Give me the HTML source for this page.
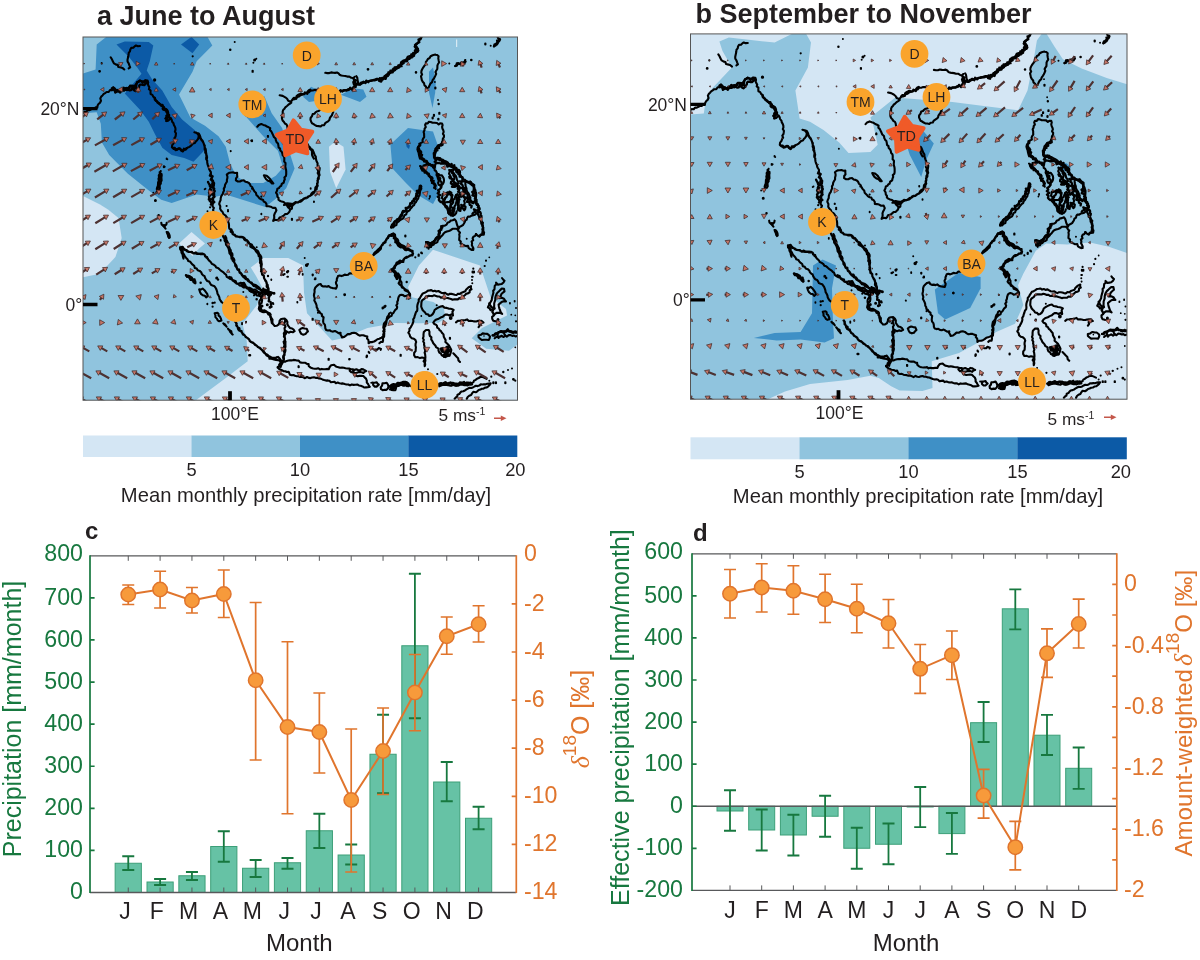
<!DOCTYPE html>
<html><head><meta charset="utf-8"><title>Figure</title>
<style>html,body{margin:0;padding:0;background:#fff}svg{display:block;filter:opacity(1)}text{font-family:"Liberation Sans",sans-serif}</style></head><body>
<svg width="1200" height="960" viewBox="0 0 1200 960">
<rect width="1200" height="960" fill="#fff"/>
<text x="97" y="25" font-size="27" font-weight="bold" fill="#231f20">a June to August</text>
<text x="695.5" y="23.3" font-size="27" font-weight="bold" fill="#231f20">b September to November</text>
<defs><g id="coast">
<path d="M112.0 90.0L111.8 88.3L113.3 87.6L113.3 89.4L114.4 90.5L117.1 90.2L117.1 89.9L118.9 91.5L120.1 90.8L121.2 89.4L122.6 89.1L123.6 87.7L125.5 89.5L126.6 88.0L128.1 89.2L129.5 87.8L130.1 85.7L131.8 85.8L133.6 85.9L134.3 88.3L135.9 87.9L135.0 85.9L135.7 84.7L136.6 83.5L137.2 82.2L138.8 81.8L139.8 80.6L141.6 81.4L143.5 81.4L144.1 82.0L145.1 80.5L147.5 80.7L148.1 82.7M114.7 90.7L115.3 92.6L117.9 90.8L119.1 91.7L120.2 92.6L121.1 91.0L122.4 90.5L124.0 90.7L125.1 89.6L126.7 90.1L128.0 89.5L129.7 90.4L131.1 90.1L132.3 87.6L133.3 89.5L134.5 90.5L135.7 91.1L137.5 89.5L138.1 88.3L139.0 87.3L139.2 85.7L140.0 84.6L142.0 84.6L142.8 84.9L144.2 85.0L145.4 84.0L146.6 82.7M154.7 98.0L154.8 99.5L155.7 100.6L157.0 101.2L157.5 102.5L159.0 103.1L159.6 104.3L160.8 104.8L162.5 104.8L163.0 106.3L164.0 107.1L163.7 109.5L165.7 109.1L166.9 109.7L167.7 111.1L168.1 112.5L168.1 113.9L169.1 115.1L169.0 117.1L166.1 117.8L166.9 119.6L166.6 121.0M162.7 108.7L163.5 109.7L165.0 110.1L166.2 110.8L167.3 111.5L167.8 112.9L167.7 114.7L166.3 115.9L166.7 117.3L165.4 118.5M173.3 148.0L174.8 148.0L175.6 150.1L177.3 149.6L178.9 148.3L180.2 148.8L181.3 150.2L183.1 151.0L183.9 148.8L185.6 149.6L186.6 148.2M210.7 174.0L209.9 175.6L212.6 176.4L211.7 178.0L210.8 179.6L212.9 180.5L213.2 181.9L214.1 183.1L213.9 184.5L213.8 185.9L212.7 187.4L214.3 188.6L214.0 190.0L214.7 191.2L213.7 192.7L212.8 193.9L213.3 195.3L214.5 196.8L212.8 197.9L212.0 199.2L212.9 200.6L214.3 202.1L212.0 203.2L211.7 204.6M208.7 183.3L209.5 184.5L210.5 185.7L210.8 187.1L210.2 188.7L209.6 190.3L210.0 191.3L209.0 192.5L210.9 194.1L210.3 195.4L208.9 196.5L209.3 198.1L210.2 199.3L209.6 200.7L210.8 201.9L211.8 203.2L210.9 204.6M339.3 92.0L340.5 90.2L342.5 91.5L343.9 90.2L345.3 90.4L346.7 90.5L347.9 89.3L349.3 89.5L350.2 87.7L352.4 89.9L353.5 87.5L355.7 87.0L355.1 83.7L357.6 83.6L358.4 84.6L360.2 84.2L360.8 82.9L362.2 82.4L363.5 81.7L365.6 83.0L366.3 80.6L368.3 82.2L369.3 80.8L370.7 80.8L372.1 80.6L373.4 80.2L374.7 80.3L376.0 80.0L377.3 79.0L378.8 80.1L379.7 78.2L381.6 78.9L382.9 78.6L384.3 78.1L384.6 76.1L386.5 76.3L387.9 75.9L387.9 73.9L389.0 72.6L390.7 72.3L392.7 72.4L392.7 69.5L393.8 68.3L396.0 68.6L397.5 68.1L398.8 67.4L399.2 65.5L401.6 66.1M292.7 99.3L294.0 97.9L296.3 98.7L296.7 96.1L297.9 95.0L299.4 94.4L300.9 93.6L302.7 94.4L304.1 94.2L304.9 92.5L307.3 93.8L307.8 91.6L308.9 90.4L310.2 89.8M353.3 87.3L354.8 86.4L356.2 85.4L355.2 82.8L354.2 82.4L355.9 80.4L353.9 79.6M379.3 80.9L381.2 81.6L381.7 79.8L383.1 79.5L383.9 78.2L385.7 78.8L386.1 76.6L386.7 75.0L389.0 74.7L388.4 72.3L390.6 73.0L390.4 70.6L392.5 71.1L393.2 69.8L395.1 70.1L394.7 67.3L396.6 67.8L397.4 66.6L399.4 67.0L400.6 65.9L400.9 64.3L401.1 62.4L402.1 61.5L403.7 60.7L405.2 60.5L406.3 59.3L407.6 58.5L409.5 58.9L410.3 57.6L410.6 55.9L413.0 56.4L412.9 53.7L414.8 53.7L415.4 51.8L417.6 51.8L418.3 50.5L417.4 48.4L416.7 47.0L415.2 45.8L415.0 45.1L416.0 44.1L417.3 43.3L419.3 42.3L418.5 39.5L420.5 39.2L421.1 37.9L421.5 36.6M396.0 68.7L397.2 67.9L398.8 67.7L398.4 65.3L400.8 65.8L400.7 63.8L402.6 63.8L403.7 63.1L403.4 60.6L405.8 61.4L407.2 60.9L407.1 58.3L407.8 56.8L409.2 56.2L411.8 57.5L411.3 54.3L414.1 55.7L413.3 52.9L415.6 52.7L414.9 50.5L415.9 49.4M455.3 66.0L456.8 65.6L456.8 63.4L458.4 63.2L460.4 64.3L461.5 63.3L463.0 63.4L464.5 63.3L465.2 60.1M494.0 46.3L494.5 44.5L496.9 44.5L497.8 43.1L497.1 40.7L499.1 40.5L499.4 38.8M420.0 186.0L419.8 187.4L420.2 189.0L420.0 190.5L416.8 190.9L418.3 192.8L416.3 193.6L417.5 195.9L415.8 196.7L415.9 198.6L414.3 199.4L414.2 201.2L412.1 201.3L412.5 203.3L410.3 203.2L410.0 204.7L410.1 206.4L408.7 206.9L407.5 207.7L405.7 207.9L406.2 210.0L405.7 211.2L403.1 210.8L402.5 211.9L402.0 213.2L402.2 215.1L401.6 216.3L400.5 217.1L400.0 218.5L399.1 219.5L397.1 219.5L396.4 220.7L395.1 221.3L394.6 222.7L394.4 224.4L392.2 224.4L391.6 225.8L391.2 227.3M436.0 163.3L437.4 163.0L438.8 163.0L440.5 163.4L440.9 163.6L442.4 163.7L444.1 163.3L445.5 163.6L446.8 164.4L447.4 166.6L449.5 165.7L450.8 166.4L452.1 167.1L453.7 167.3L453.2 170.1L456.1 168.5L456.1 170.8L456.6 172.4L458.7 172.3L458.4 174.1L459.7 175.2L460.7 176.3L461.6 177.0L462.8 177.9L462.3 180.4L463.4 181.3M454.7 183.3L455.0 185.1L457.6 183.9L457.5 186.2L459.2 186.1L459.7 187.7L461.3 188.1L462.9 188.2L463.4 190.6L466.0 188.7L465.3 191.7L465.7 193.1L467.3 194.0L467.8 195.5L467.5 197.4L470.3 197.6L470.1 199.5L470.6 201.0L472.3 201.8M449.3 176.7L449.9 178.2L451.7 178.6L452.5 179.9L453.4 181.2L454.3 182.4L455.8 183.1L455.7 184.8L456.6 186.1L458.1 187.0L457.7 188.8L459.3 189.7L458.1 191.8L459.8 192.6L459.6 194.2L460.7 195.4L461.4 196.6M388.0 238.0L388.4 236.4L389.2 235.2L391.9 235.9L392.1 234.1L394.0 235.4L394.3 236.7L393.8 238.2L395.8 239.1L396.3 240.4L395.4 242.3L397.1 242.6L397.5 243.9L397.9 245.3L399.3 246.5L400.7 247.4L403.4 246.2L404.2 247.7L404.9 249.6L406.2 250.2L408.5 249.0L409.8 249.7L411.0 250.7L412.5 250.9M400.0 260.7L399.0 262.3L396.7 262.7L396.0 264.6L394.8 266.1L394.7 268.1L392.9 268.9L392.0 270.7L393.5 271.6L394.8 272.6L395.3 273.8L394.9 275.4L395.6 276.6L397.8 277.0L396.8 278.9M248.7 289.3L250.2 289.6L251.3 290.7L253.0 290.6L254.2 291.7L255.5 292.1L256.8 292.7L258.5 292.1L259.6 293.2L260.7 293.9L261.7 292.0L263.1 292.1L264.8 293.3L266.2 292.3L267.5 292.8L268.9 292.9L269.8 295.0L270.8 292.2L272.8 293.0M263.3 288.7L263.6 290.4L266.0 290.0L266.5 291.5L266.7 293.3L267.3 294.1L268.2 295.3L269.5 296.4L268.6 298.0L269.1 299.3L268.8 301.0L270.5 301.7L270.9 303.2L270.9 304.9M186.0 275.3L187.0 276.7L188.8 276.0L190.1 276.6L191.2 278.1L191.9 280.0L194.6 279.3L193.6 282.1L195.0 283.2M440.7 348.7L442.0 349.0L442.8 350.4L444.4 350.2L446.0 350.2L446.9 351.6L447.9 350.1L449.4 350.1L449.0 351.3L447.5 352.4L447.6 353.8L449.4 355.7L446.6 355.5L445.4 356.3L444.0 356.8M492.7 335.3L494.3 335.6L494.9 333.8L496.1 333.3L497.9 333.7L498.6 332.2L500.0 332.0L501.3 331.7L502.9 332.3L504.1 331.7L505.4 331.7L506.6 330.5L507.8 329.3L509.2 331.5L510.6 331.5L511.8 332.5L513.1 332.8L515.0 331.3L516.2 331.9L517.7 331.9L518.4 334.4M438.7 384.7L439.8 383.3L441.2 383.1L442.8 384.9L444.0 384.1L445.2 382.5L446.7 384.1L448.0 384.3L449.3 383.7L450.8 382.5L452.0 384.5L453.3 383.8L454.6 384.4L456.1 385.5L457.4 384.8L458.8 384.8L459.9 382.5L461.3 383.0L462.7 383.4L464.0 381.9L465.3 384.8L466.7 382.7L468.0 382.6L469.3 382.8L470.7 382.6L472.0 384.4M489.3 303.3L489.9 304.7L490.6 306.0L491.5 307.2L493.2 308.1L493.2 309.7L492.3 311.8L493.2 313.1L493.7 314.5M390.7 387.3L392.0 386.2L393.4 385.6L394.8 384.7L396.7 385.7L397.9 385.0L399.3 385.0L400.7 384.8L402.0 384.8L403.3 383.9L404.5 385.4L406.1 383.8L407.1 386.1L408.6 385.2M419.4 143.8L420.2 145.4L419.1 146.4L418.0 147.5L419.0 148.6L419.2 150.1L420.5 151.0L421.2 152.2L420.3 154.1L422.1 154.8L421.4 156.5L421.7 157.8L423.1 158.7L424.3 159.5L424.0 161.4L426.4 161.8L426.7 163.9L427.0 165.1L425.1 165.2L423.5 165.6L423.3 168.0L420.9 168.0L422.4 170.5L422.4 170.7L424.1 169.9L424.6 172.5L426.1 172.2L427.0 173.7L428.8 173.7L429.1 175.3L430.0 176.5L431.8 177.2L432.5 178.4L431.2 180.4L433.7 180.9L432.0 182.9L434.4 183.4L435.2 184.6L435.7 185.8L434.2 187.8M427.5 163.1L428.1 165.0L430.1 164.1L431.0 165.4L432.8 165.0L433.2 167.3L434.8 167.4L435.1 165.0L435.8 163.6L437.0 162.8L434.7 161.8L436.6 159.7L434.6 158.5L434.0 156.9L434.6 154.9L434.3 153.6L435.5 152.6L434.8 150.9L437.4 150.4L436.9 148.4L439.1 148.2L438.6 145.6L441.1 145.6L442.6 144.7L442.2 142.3M436.2 158.8L437.9 157.8L438.9 159.2L439.9 160.4L441.8 160.4L442.4 162.2L444.5 162.2L445.6 163.3L447.4 164.4L448.8 164.0L449.8 165.1L451.6 163.9L452.1 166.5L454.3 165.2L454.4 168.0L455.3 169.1L456.7 170.0L458.7 170.1L459.8 171.1L460.0 172.4L459.3 174.0L460.4 175.0L459.6 176.7L462.4 177.1M451.2 170.0L452.1 171.2L452.0 173.1L453.5 173.9L453.4 175.4L454.6 177.2L454.2 178.9L453.4 180.6L451.1 181.8L450.9 183.5L453.2 184.6L452.0 186.8L455.0 186.9M465.0 181.2L466.9 181.5L468.8 182.7L470.3 181.7L470.5 184.0L472.2 184.1L474.2 185.1L473.8 187.0L473.9 188.7L474.1 190.6L472.2 191.9L473.4 194.0L472.4 195.4L474.3 196.0L475.5 196.9L474.8 198.8L476.5 199.7L475.6 201.3L475.3 202.7L476.2 203.8L477.0 205.0L478.7 205.8L477.8 207.5L479.4 208.3L478.3 210.2M460.0 181.2L461.6 182.0L461.0 183.9L462.3 184.8L462.8 186.1L462.9 187.8L465.0 188.2L465.8 189.5L463.3 191.3L464.7 193.5L462.8 194.8L463.7 196.9L465.5 197.5L467.1 198.2L468.1 199.3L467.0 201.9L469.7 201.9L469.4 203.7L469.9 205.0L471.7 205.7L471.3 207.5M438.8 177.5L440.3 178.3L439.9 180.0L440.6 181.3L441.6 182.3L441.7 184.0L440.8 185.1L441.0 186.5L440.8 187.8L440.1 189.0L438.1 190.2L439.1 191.9L437.7 193.3L440.2 195.1L437.8 196.8L439.4 198.1L438.8 199.9L439.8 201.3L441.1 202.2L442.8 201.3L443.5 203.2L443.7 200.7L444.8 199.6L445.1 198.0L446.4 197.0L447.1 195.4L446.9 193.6L449.1 194.4L449.6 191.7L451.3 192.7M451.2 193.8L452.4 195.2L451.8 197.2L451.7 199.0L451.6 200.2L453.2 202.1L452.3 203.6L451.0 204.9L450.3 207.0L453.4 208.0L452.2 210.1L452.4 211.8L452.4 213.6L454.2 214.9M456.2 195.0L455.8 196.6L457.3 197.5L456.5 199.2L459.5 199.5L456.7 201.4L458.1 203.2L457.9 204.7L458.7 206.4L458.7 207.2L457.8 209.0L458.4 210.2L460.4 210.9M461.2 205.0L462.8 205.4L464.3 205.8L465.5 206.7L465.1 209.1L464.2 210.2L462.7 208.0L461.2 207.4L461.8 207.0L461.2 205.0M443.8 202.5L444.7 203.7L445.0 205.5L445.6 207.0L446.9 208.0L447.6 208.9L449.3 209.7L448.7 211.4L448.5 212.9L449.2 214.1L452.0 213.2L452.9 215.6M441.2 226.2L441.3 228.0L441.4 229.8L438.6 230.9L439.1 232.8L438.5 234.4L439.8 236.5L437.1 237.0L436.0 238.0L435.2 239.3L434.8 240.4L433.7 241.2L432.8 242.2L432.3 243.6L431.7 244.8L429.9 244.9L429.1 246.0L428.0 246.7L427.2 247.4L426.9 245.0M472.5 213.8L473.4 212.6L475.3 212.0L474.0 209.4L477.1 210.7L478.4 209.6L479.3 209.7L478.1 211.6L480.3 212.2L480.8 213.4L480.5 215.0L481.5 216.0L481.1 217.5L480.3 219.1L481.3 220.2L481.6 221.7L482.9 222.9L482.2 224.7L482.5 226.2L483.2 227.6L482.4 229.2L482.8 230.8L484.0 232.5L483.7 234.5L481.3 234.7L479.9 235.6" fill="none" stroke="#000" stroke-width="2.3" stroke-linejoin="round" stroke-linecap="round"/>
<path d="M81.3 113.7L82.8 112.8L84.3 111.8L86.2 111.9L87.5 110.3L89.3 110.3L90.9 109.5L92.3 108.5L94.1 108.7L95.5 107.4L97.3 107.6L97.6 105.6L98.5 104.0L100.0 102.7L101.0 100.8L100.3 98.5L101.2 96.6L102.5 95.5L103.5 94.1L105.1 93.1L106.6 92.0L108.7 92.0L110.0 90.0L112.1 90.1L113.3 87.3L114.7 88.4L115.6 89.7L116.1 91.3L118.1 91.5L120.0 90.5L122.1 89.8L124.0 88.7L126.0 88.1L128.0 88.0L129.7 86.4L131.9 85.8L134.2 86.4L136.0 87.7L136.3 85.7L136.6 83.8L137.4 82.0L140.0 80.6L141.5 81.4L142.6 82.8L144.2 81.9L145.3 80.6L146.6 81.8L148.0 82.7L147.9 84.4L148.5 85.9L149.4 87.3L148.9 89.2L150.6 90.5L150.5 92.3L150.6 94.0L152.4 94.9L153.3 96.7L154.8 97.9L155.5 99.5L156.3 100.9L157.6 102.1L158.5 103.4L160.2 104.2L161.1 105.8L162.6 106.7L163.9 107.9L165.4 108.8L166.6 110.1L166.4 112.0L167.6 113.5L167.9 115.3L168.1 117.4L166.6 119.0L166.3 120.9L168.3 120.6L169.5 119.4L170.6 117.9L171.7 119.7L172.2 121.7L173.5 123.2L173.9 125.0L174.8 126.5L175.4 128.2L175.5 129.9L174.9 131.7L176.0 133.3L175.8 135.0L175.5 136.7L174.4 138.2L175.2 140.2L174.1 141.7L173.6 143.3L172.2 145.1L171.9 147.3L173.7 148.9L176.0 149.3L178.0 148.9L180.0 148.6L180.9 150.4L182.5 151.5L183.7 150.0L185.0 149.1L186.6 148.6L187.8 147.4L189.3 146.9L190.7 146.0L191.9 144.7L193.1 143.4L194.9 143.0L195.8 141.5L197.1 140.2L198.1 138.8L198.6 137.1L198.7 135.3L196.7 132.9L194.4 132.3M196.7 132.9L198.8 133.6L199.9 135.5L200.5 137.3L201.2 139.2L202.6 140.7L203.3 142.3L203.8 144.0L204.8 145.5L204.6 147.3L205.6 148.8L205.9 150.5L206.0 152.1L206.3 153.7L206.3 155.4L207.1 156.9L206.9 158.6M140.0 46.0L137.9 46.2L136.0 45.5L134.6 46.4L133.3 47.8L131.3 47.9L130.3 49.5L130.0 51.4L128.8 52.7L128.6 54.5L128.3 56.3L127.9 58.0L127.5 59.9L127.6 61.7L128.7 63.3L129.4 65.3L130.2 67.3L128.7 68.3M110.7 57.3L111.9 59.2L112.8 61.3L114.0 63.4L116.1 64.6L117.8 64.9L118.3 67.0L120.0 67.3L122.4 67.9L124.3 69.5M196.7 132.9L198.8 133.9L200.0 136.0L200.2 138.1L201.3 139.8L202.6 141.4L203.7 143.2L204.2 145.3L204.8 147.3L204.6 149.1L205.3 150.7L205.2 152.4L206.1 154.0L206.8 155.6L206.2 157.4L206.2 159.2L207.2 160.7L207.2 162.4L207.5 164.1L208.0 165.7L208.8 167.3L209.1 169.0L209.9 170.6L210.9 172.1L210.8 173.9L211.4 175.6L211.8 177.2L211.6 179.1L212.1 180.7L212.6 182.3L212.1 184.1L212.3 185.8L213.2 187.4L213.8 189.1L214.2 190.8L214.1 192.7L214.3 194.4L214.1 196.0L213.3 197.6L213.2 199.3L212.6 201.1L213.0 202.9L212.7 204.7L212.5 206.4L213.9 207.9L213.1 209.7L213.4 211.4L214.4 213.6L215.9 215.4M222.7 235.3L223.4 237.1L224.5 238.7L224.6 240.7L225.8 242.3L226.0 244.4L227.2 246.1L228.2 247.7L228.8 249.5L229.2 251.4L229.5 253.3L230.8 254.9L231.4 256.7L231.5 258.6M261.3 258.7L261.3 256.9L260.5 255.4L259.2 254.1L258.6 252.3L257.7 250.8L256.0 250.0L254.5 249.3L253.4 248.2L251.9 247.5L250.3 246.5L250.4 244.2L248.7 243.3L247.6 242.0L247.0 240.2L245.3 239.4L244.3 237.9L243.0 237.1L241.3 236.8L239.5 236.8L237.7 236.6L236.0 236.1L234.8 234.8L233.1 234.1L232.0 232.7L230.6 231.7L230.8 229.6L229.3 228.7L229.0 226.9L229.0 225.1L228.8 223.3L228.1 221.6L228.4 219.6L227.3 218.0L226.4 216.6L225.3 215.3L223.4 214.1L222.6 212.0L221.1 210.6L220.1 208.8L220.3 206.2L219.2 204.0L219.7 202.0L220.6 200.1L220.7 198.0L221.4 195.9L222.7 194.0L223.2 192.2L224.0 190.6L223.8 188.6L224.8 186.9L225.0 185.0L225.9 183.3L226.9 181.7L226.9 179.8L227.4 178.0L227.4 176.3L226.8 174.6L227.9 173.6L229.4 172.7L231.3 172.5L233.3 172.4L235.2 173.0L237.1 172.9L237.1 174.8L237.3 176.7L236.0 178.3L235.9 180.4L237.9 181.5L240.0 181.5L241.9 180.5L244.0 180.4L245.4 181.8L247.3 182.1L248.9 183.0L250.0 184.3L250.7 186.0L252.1 187.0L252.8 188.4L253.5 189.9L254.5 191.5L255.9 192.7L256.4 195.0L258.1 196.6L259.5 198.3L261.3 199.4L263.0 199.7L263.7 201.6L265.2 202.2L266.4 203.9L266.5 206.1L268.7 206.2L270.7 206.7L272.8 207.9L275.3 207.7L276.4 210.2L275.6 212.0L274.7 213.6L274.1 215.4L274.3 217.3L273.8 219.1L273.2 220.9L275.3 219.8L277.6 220.2L278.8 219.0L279.6 217.4L281.3 216.9L282.8 216.2L284.0 215.2L285.2 214.1L287.1 214.0L288.3 212.9L289.4 211.8L290.2 209.7L291.9 208.6L292.0 206.4L293.4 204.7L294.9 203.4L296.6 202.4L298.7 202.0L300.7 201.6L302.3 200.4L303.5 198.7L305.3 197.9L307.4 197.7L308.9 196.3L310.7 195.4L311.5 193.5L312.8 192.2L314.7 191.4L315.2 189.5L315.4 187.5L316.8 186.1L317.2 184.3L317.8 182.5L317.4 180.6L318.8 178.8L318.8 176.6L319.6 175.0L319.1 173.3L319.1 171.6L319.5 170.0L319.7 168.1L318.2 166.8L317.5 165.2L317.6 163.3L316.8 161.8L316.2 160.1L315.9 158.5L315.8 156.7L314.7 155.1L314.0 153.2L313.3 151.4L312.5 149.7L310.9 148.9L310.0 147.3L308.7 146.3L308.0 144.8L307.2 143.4L305.9 142.3L304.5 141.2L304.1 139.3M276.0 140.7L276.7 142.3L278.0 143.6L278.4 145.4L278.6 147.4L280.1 148.6L280.3 150.5L281.7 151.8L282.4 153.5L282.7 155.3L284.0 156.6L284.3 158.3L284.3 159.9L284.2 161.6L285.5 163.0L285.5 164.7L285.3 166.3L285.5 167.9L286.0 169.5L286.2 171.1L286.2 172.7L286.2 174.4L285.9 176.0L284.4 177.4L284.8 179.2L284.1 180.7L283.7 182.7L281.7 184.0L281.2 185.9L279.8 186.7L278.9 188.1L277.4 188.8L277.0 190.8L276.0 192.7L277.2 194.5L277.4 196.7L278.5 197.8L278.5 199.7L279.8 200.8L281.7 201.6L283.7 202.1L285.3 203.5L287.4 203.3L289.4 203.6L291.4 203.9M285.3 203.3L286.4 204.6L287.2 206.0L288.1 207.3L289.5 208.4L290.0 210.0M284.0 204.9L285.8 204.5L287.3 205.3L288.9 205.4L290.4 206.3L292.0 206.6M264.0 175.3L266.7 175.8L268.2 177.1L269.6 178.4L270.6 180.0L272.0 181.7L273.3 183.4L272.0 183.5L270.9 182.3L269.7 181.2L268.0 180.7L266.1 179.2L264.8 177.2L263.9 175.4M180.0 247.3L182.7 246.8L183.8 248.5L185.5 249.9L186.9 251.2L188.7 251.9L190.6 252.0L192.3 252.7L193.9 253.2L195.8 252.4L197.3 253.3L199.0 253.5L200.6 254.2L202.3 254.3L204.0 254.1L205.2 255.6L206.2 257.5L207.9 258.7M180.0 247.3L180.1 249.2L181.3 250.8L181.5 252.6L182.6 254.5L182.9 256.6L183.5 258.6M257.3 126.7L258.8 125.0L261.3 124.0L263.3 124.9L265.3 125.4L266.9 126.6L268.7 127.3L270.2 128.2L270.0 130.3L271.3 131.4L272.2 133.2L273.1 135.1L273.9 137.0L275.6 138.5L275.9 140.7M308.0 146.9L306.3 146.6L304.7 146.1L303.3 145.1L302.0 143.9L300.2 143.1L299.2 141.2L298.0 139.6L296.0 138.9L294.7 137.9L293.6 136.6L292.6 135.1L291.5 133.8L290.0 132.9L289.5 131.1L288.0 129.7L287.5 127.9L287.2 126.0L286.5 124.4L284.9 123.5L284.0 122.0L282.6 120.5L282.0 118.7L281.9 116.7L282.5 114.9L282.7 113.1L282.7 111.3L283.3 109.8L284.5 108.7L285.3 107.3L287.0 106.0L288.6 104.5L290.5 103.4L291.2 101.3L292.8 99.4L294.6 99.3L295.9 97.8L297.3 97.1L299.0 96.6L300.1 95.5L302.0 94.6L304.0 93.9L306.6 92.6L309.0 92.3L310.6 90.6L312.7 90.5L314.6 89.9L316.4 89.8L318.3 90.3L320.0 89.2L321.5 90.2L323.3 90.2L324.8 91.2L326.6 91.3L328.4 91.0L329.8 92.5L331.7 92.2L333.4 92.5L335.2 91.7L337.3 92.2L339.3 92.0L340.8 91.3L342.3 90.6L344.0 90.6L346.0 90.0L348.0 90.1L349.7 88.6L352.0 88.8L353.7 87.7L354.6 85.9L356.5 85.1L357.4 83.4L359.9 84.8L361.8 83.4L364.0 82.6L365.9 81.8L368.1 81.5L369.8 81.0L371.5 80.2L373.3 80.0L375.1 79.4L376.8 78.8L378.6 79.2L380.6 79.2L382.1 77.7L384.1 77.5L385.1 75.9L386.4 74.8L388.0 74.0L389.1 72.7L390.6 72.1L392.1 71.5L393.7 71.0L394.9 70.0L396.0 68.7L398.0 67.9L399.6 66.7L400.7 64.9M291.3 102.7L290.0 101.4L288.2 100.8L287.1 98.8L285.3 97.3L282.7 95.9L279.7 95.3M354.7 86.0L353.7 84.1L353.2 82.1L354.4 80.5L353.5 78.5L354.4 76.9M358.7 83.6L357.9 81.7L357.5 79.6L357.3 77.8L356.4 76.2M353.6 78.3L351.3 77.8L349.4 76.6L347.3 76.6L345.3 76.0L343.3 75.8L341.3 75.5L339.7 74.8L338.6 73.4L337.0 72.5L335.1 72.9L333.3 72.8L331.2 72.4L329.3 73.1L327.3 73.1L325.3 72.8M320.0 110.0L318.5 111.1L316.7 111.5L315.5 112.4L314.4 113.7L312.7 114.1L312.0 116.2L310.6 118.0L310.5 119.9L311.2 121.7L312.0 123.3L313.6 124.1L315.1 125.1L316.7 126.0L318.7 126.1L320.7 126.5L322.0 125.3L324.2 125.1L325.2 123.2L326.7 122.2L328.1 121.3L329.4 120.1L329.8 118.2L330.8 116.7L331.9 115.3L332.5 113.6L333.3 112.0L332.4 110.4L330.8 109.9L328.9 109.4L327.1 110.8L325.3 110.7L323.6 109.7L321.8 109.4L320.0 110.0M309.3 147.3L310.1 149.2L311.8 150.5L312.0 152.6L312.0 154.9L312.8 156.8L313.9 158.7M379.3 80.9L381.2 80.9L382.2 79.1L383.6 78.2L385.3 77.9L386.3 76.7L387.4 75.5L388.1 74.1L389.5 73.3L390.8 72.2L392.3 71.3L393.3 70.0L394.7 69.1L395.6 67.4L397.6 67.4L398.6 65.9L400.5 65.1L401.5 63.5L402.6 61.9L404.2 60.6L406.0 59.9L408.0 59.4L409.6 58.2L410.2 56.2L411.9 55.2L413.4 54.5L414.7 53.7L416.0 52.6L416.6 50.5L418.0 48.7L415.9 48.3L414.6 46.7L416.0 45.0L417.5 43.4L418.5 41.8L419.5 40.1L420.4 38.3L421.5 36.6M435.3 54.7L437.2 55.0L438.6 56.2L438.3 58.3L438.7 60.7L439.1 62.5L438.0 64.0L437.4 65.6L437.4 67.3L437.3 69.0L436.3 70.5L435.5 72.0L436.2 73.8L435.5 75.4L434.7 77.1L433.8 78.7L432.6 80.2L432.1 82.1L430.5 83.5L429.5 85.4L428.7 87.3L426.1 88.8L426.0 86.6L424.4 85.2L424.1 83.3L422.7 81.7L421.8 80.0L421.4 78.0L421.0 76.2L422.1 74.4L421.3 72.7L421.5 70.7L422.3 69.0L423.3 67.3L424.5 65.7L425.8 64.1L425.9 61.9L427.0 60.6L427.9 59.0L429.5 58.1L430.6 56.2L432.6 55.2L435.3 54.5M455.3 66.0L456.9 64.7L458.8 63.7L460.9 63.5L462.7 62.4L465.7 61.7M494.0 46.3L495.6 45.5L496.0 43.7L497.2 42.6L499.2 41.4L500.1 39.4L498.3 38.7L497.6 36.9M420.0 158.7L419.4 156.7L418.9 154.7L418.6 152.7L417.9 151.0L417.4 149.2L417.9 147.3L418.8 145.9L420.1 144.8L420.9 142.9L422.8 142.1L422.5 140.2L423.1 138.6L424.2 137.1L424.1 135.4L424.1 133.7L423.6 131.9L424.5 130.3L424.6 128.7L425.8 127.1L425.1 125.0L425.9 123.3L427.7 123.5L428.9 121.7L430.7 122.0L432.6 122.8L434.6 122.8L437.0 123.0L438.7 124.5L440.1 123.4L442.1 123.5L442.6 125.1L442.1 126.9L442.5 128.7L443.3 130.3L443.7 131.9L442.9 133.8L444.0 135.3L443.9 137.2L442.8 138.8L442.7 140.7L442.1 142.2L441.5 143.8L439.9 144.6L437.9 145.5L436.6 147.3L435.3 148.9L436.0 151.2L434.8 152.7L434.9 154.7L434.4 156.7L435.2 158.7M418.7 149.3L419.3 151.3L419.9 153.2L420.0 155.3L420.9 156.9L421.2 158.8L422.8 159.9L424.6 160.8L426.7 160.8L427.4 162.3L428.6 163.6L430.0 164.7L431.8 165.8L433.4 167.3L434.4 168.5L434.7 170.3L436.1 171.2L436.9 173.0L436.5 175.0L437.4 176.6L438.5 178.3L438.9 180.0L438.6 182.0M435.3 149.3L435.2 151.4L433.7 153.2L433.9 155.3L434.2 157.1L436.1 157.8L436.8 159.2L438.1 158.1L440.0 158.0L441.1 159.2L442.7 159.7L444.1 160.6L446.1 161.5L448.0 162.7L449.1 164.5L450.6 166.1L452.5 167.2L454.6 167.4L456.3 167.7L457.0 169.6L458.7 169.9L459.0 171.8L459.8 173.5L459.9 175.4L461.3 176.4L462.1 177.8L462.8 179.3L464.9 179.8L466.6 181.5L468.6 181.8L470.7 181.9L471.7 183.2L471.8 185.1L473.3 186.0L474.2 187.7L473.7 189.7L474.6 191.3L474.3 193.3L476.2 194.7L476.0 196.7L475.8 199.1L476.5 201.4M438.7 174.0L439.6 175.4L441.7 175.2L442.7 176.6L443.7 178.3L444.0 180.1L443.8 182.0L443.0 183.7L441.6 185.2L441.4 187.4L440.4 185.6L438.7 184.7L438.1 182.9L438.7 181.1L438.2 179.3L437.6 177.5L438.6 175.8L438.7 174.0M420.0 166.0L421.7 167.0L422.8 168.5L424.1 169.9L425.7 171.0L426.9 172.4L428.0 174.0L428.6 175.8L430.1 177.1L431.2 178.7L431.4 180.6L432.2 182.6L434.0 184.0L434.7 186.0L435.6 188.9M442.7 194.0L444.4 194.1L446.0 193.4L447.5 192.3L449.3 192.5L450.4 193.9L451.0 195.4L452.0 196.7L451.7 198.7L450.7 200.5L449.3 202.0L447.6 202.1L445.8 202.3L444.0 202.1L443.6 199.7L441.9 198.0L442.4 196.0L442.6 194.0M450.7 202.0L451.9 200.6L453.7 199.7L454.8 198.1L455.4 196.5L456.0 195.1L457.4 194.1L458.8 196.6L458.7 198.6L456.7 199.8L456.8 201.7L455.9 203.3L455.6 205.0L454.4 206.5L454.6 208.4L454.1 210.0L453.7 212.3L452.0 214.0L449.4 212.6L450.4 211.0L449.6 209.0L450.7 207.3L450.5 205.6L450.7 203.8L450.5 202.0M458.7 198.0L459.8 196.8L461.4 196.3L462.8 195.5L464.1 196.3L464.5 198.0L465.2 199.4L464.1 200.8L464.8 202.8L464.4 204.5L463.2 205.9L461.6 206.8L461.1 208.7L460.1 210.1L459.5 208.3L458.0 207.4L458.8 205.5L458.5 203.6L458.9 201.8L458.0 199.8L458.8 198.0M465.3 182.0L467.1 181.9L468.7 182.5L470.2 183.5L472.0 183.5L473.3 184.8L474.1 186.5L474.6 188.3L475.3 190.0L475.7 191.6L476.2 193.1L476.1 194.8L475.5 196.4L475.8 198.0L475.8 200.1L474.1 201.5L473.2 203.3L471.5 202.5L470.8 200.6L469.6 199.0L469.9 197.1L469.4 195.3L468.6 193.5L467.3 191.9L466.6 190.0L466.4 188.2L465.7 186.5L465.4 184.7L465.3 182.0M449.3 170.0L450.7 170.8L452.4 171.1L453.3 172.7L454.5 174.4L455.9 176.0L456.6 178.1L456.9 179.9L458.1 181.5L458.8 183.3L456.0 184.7L454.4 183.2L453.3 181.4L452.6 179.3L451.2 178.4L450.8 176.7L450.0 175.3L449.0 173.6L449.8 171.8L449.2 170.0M442.7 203.3L443.8 204.5L445.1 205.5L446.7 206.0L447.8 207.6L447.5 209.6L448.0 211.3L448.3 213.1L450.3 213.7L450.5 215.4L452.8 215.8L454.7 214.8L456.1 213.3L456.6 211.3M476.7 201.3L476.6 203.1L478.0 204.3L478.0 206.1L479.2 207.4L479.6 209.2L478.4 210.8L478.5 212.6M426.0 242.0L426.8 243.3L427.8 244.5L428.1 246.2L429.4 247.3L431.0 247.0L431.8 245.3L433.4 244.8L434.4 243.3L436.0 242.9L437.4 242.1L437.8 240.4L438.8 239.1L440.0 238.0L441.1 236.5L442.5 235.2L443.6 233.6L445.0 232.3L446.8 231.5L448.8 230.9L450.7 230.2L452.5 228.8L454.7 228.8L456.6 228.8L458.0 230.0L458.8 231.5L460.0 232.6L459.2 234.4L459.5 236.2L459.3 238.0L459.2 239.9L460.8 241.4L460.5 243.4L462.2 244.5L464.0 245.3L465.9 246.1L468.0 245.9L468.7 248.2L470.6 249.4L473.3 249.9L473.4 248.3L472.6 246.7L471.8 245.1L472.1 243.3L471.6 241.5L473.2 240.1L472.6 238.3L473.4 236.7L475.2 235.9L476.0 234.0L477.5 235.5L479.4 236.6L480.5 234.7L482.6 233.9L482.3 232.2L483.3 230.5L483.3 228.7L482.9 227.0L482.9 225.2L481.3 223.8L481.2 222.0L480.9 220.1L479.3 218.7L479.1 216.7L478.1 214.8L477.2 212.7L476.1 213.7L474.9 214.8L473.3 215.3L471.5 215.6L469.9 216.7L468.0 216.6L467.1 218.0L466.7 219.7L465.2 220.6L464.7 222.2L463.8 223.7L462.9 225.1L461.3 226.0L459.6 226.9L458.6 228.6L457.9 226.7L457.0 224.8L456.5 222.7L455.9 220.9L454.7 219.3L452.7 220.2L450.6 220.6L449.4 222.1L447.5 222.8L446.6 224.6L444.8 225.7L442.6 225.8L442.4 227.7L440.8 228.6L440.0 230.0L440.0 231.9L439.8 233.7L438.6 235.3L438.4 237.1L436.8 238.0L435.9 239.2L435.0 240.8L433.6 241.7L431.9 242.2L430.7 243.3L429.2 242.7L427.7 242.0L426.0 242.1M420.0 186.0L419.8 187.7L419.2 189.3L419.1 191.0L417.3 192.2L417.2 194.0L416.0 195.5L416.0 197.7L413.9 198.7L413.2 200.6L412.3 202.0L410.8 203.1L410.1 204.7L409.2 206.3L408.3 207.7L406.7 208.7L406.1 210.5L404.6 211.5L403.0 212.4L402.0 213.8L400.7 215.0L399.9 216.6L398.9 218.3L397.3 219.3L396.1 220.7L394.3 221.7L393.3 223.3L392.7 225.5L391.3 227.3L393.3 227.4L394.6 225.9L396.4 225.1L396.8 222.8L398.4 221.7L399.7 220.4L401.4 219.4L403.0 218.5L403.9 216.9L404.5 215.2L406.2 214.4L406.7 212.5L407.9 211.3L409.6 210.4L410.4 208.8L411.6 207.5L412.6 206.2L414.1 205.2L414.7 203.3L416.1 201.9L416.9 200.2L418.2 198.6L418.6 196.7L419.5 195.2L419.8 193.5L420.0 191.8L420.4 190.1L421.4 188.7L419.8 186.1M379.3 249.7L381.0 248.5L381.2 246.2L382.2 244.5L383.9 243.2L385.5 242.4L385.8 240.5L386.5 239.0L387.8 237.9L388.8 236.1L390.9 235.6L392.0 234.0L394.0 235.4L394.1 237.2L395.6 238.7L395.3 240.7L396.6 241.9L397.2 243.7L398.6 244.7L399.7 246.1L401.7 245.9L402.6 247.5L404.4 248.9L406.6 249.5L408.7 249.7L410.4 250.7L412.1 251.9L413.1 253.5L412.5 255.4L410.5 255.5L408.6 256.6L406.5 256.8L404.7 258.0L403.4 260.7L401.7 261.3L400.0 260.8L398.4 261.7L397.4 263.4L396.2 264.9L394.7 266.0L394.3 267.8L392.7 268.7L394.0 270.5L394.6 272.7L395.5 274.1L396.3 275.6L396.0 277.5L397.3 278.7M393.3 269.3L394.2 271.3L395.9 272.6L397.5 273.9L398.3 275.7L399.2 277.5L399.9 279.4L399.6 281.4L398.6 283.3L399.7 284.7L401.2 285.7L401.9 287.4L404.0 288.2L404.8 290.4L406.8 291.2L408.9 292.4L410.1 294.6L408.2 294.9L406.6 295.8L404.7 296.3L403.1 295.1L401.3 294.7L399.7 295.3L398.7 296.8L398.2 298.4L398.0 300.3L397.2 302.0L397.5 303.7L396.3 305.3L397.2 307.0L396.8 308.7L395.3 309.8L394.4 311.3L393.5 312.8L392.1 313.9L391.6 315.8L389.9 316.6L388.6 317.8L387.4 319.0L386.6 320.6L386.4 322.5L385.9 324.3L385.4 326.0L384.1 327.6L384.6 329.8L383.2 331.3L384.3 333.0L384.2 334.8L384.1 336.7L382.9 338.3L383.1 340.2L382.7 342.0L380.8 341.9L379.4 343.2M420.0 298.0L420.8 296.4L421.8 294.9L422.8 293.4L424.6 292.8L426.3 291.8L428.0 290.6L429.7 290.4L431.3 290.1L433.0 291.2L434.7 290.7L436.4 291.5L438.4 291.0L440.0 292.0L441.5 292.9L443.3 293.1L445.2 292.9L446.7 294.0L448.2 294.7L449.9 293.8L451.5 293.9L453.1 294.2L454.7 294.7L456.5 295.0L458.2 293.7L460.0 293.9L461.6 292.7L463.4 292.0L465.3 291.3L466.0 289.7L467.3 288.5L468.6 287.3L471.0 286.2L470.8 287.7L471.5 289.3L469.7 290.2L469.6 292.4L468.0 293.4L466.2 293.7L465.1 295.0L463.8 296.0L462.7 297.4L461.1 298.3L459.3 298.1L457.8 299.4L456.0 299.4L454.3 299.3L452.6 299.7L451.0 299.0L449.3 298.6L447.7 298.0L446.0 298.0L444.4 297.5L442.7 297.3L440.9 297.6L439.4 296.5L437.6 296.5L436.0 295.9L434.2 295.3L432.4 296.1L430.7 296.0L428.3 295.9L426.0 296.7L424.6 298.6L422.6 299.9L421.6 301.4L421.4 303.0L421.3 304.6L421.2 306.6L421.9 308.3L422.6 310.0L423.8 311.3L425.1 312.5L426.0 314.0L428.0 314.4L429.3 316.0L431.2 315.4L432.7 314.1L433.9 312.1L434.6 310.0L435.9 309.0L437.3 308.2L438.7 307.4L440.6 306.5L442.7 306.1L444.4 307.6L446.7 307.9L448.6 308.6L450.6 308.8L452.2 309.2L453.6 310.0L452.4 311.8L452.8 314.0L451.0 314.6L449.4 315.5L447.4 314.6L445.4 314.5L444.0 315.6L442.8 316.8L440.6 317.6L438.7 318.7L436.5 319.4L434.7 320.7L433.3 322.6L434.4 324.1L436.0 324.7L437.0 325.9L437.2 327.7L438.8 328.6L439.6 330.2L441.0 331.2L441.9 332.7L443.5 334.4L443.8 336.8L444.7 338.4L445.6 340.1L445.4 342.0L447.1 343.6L448.8 345.2L449.7 346.8L450.6 348.4L451.3 350.0L450.9 351.9L450.4 353.7L449.4 355.4L447.2 356.0L445.3 357.2L443.7 356.3L441.9 355.4L441.0 353.7L439.3 352.7L438.5 350.7L438.5 348.7L436.0 347.2L435.5 345.7L434.4 344.5L433.3 343.3L432.4 341.3L431.2 339.4L431.4 337.3L429.8 335.9L429.4 334.0L429.5 331.9L428.8 330.0L426.0 330.0L423.8 332.1L423.5 334.3L423.5 336.7L422.9 338.3L423.8 339.8L423.2 341.5L424.2 343.0L424.0 344.7L424.5 346.2L424.4 347.9L424.9 349.4L425.3 351.0L424.6 352.7L425.1 354.2L425.3 355.8L425.4 357.4L425.2 359.1L425.4 360.7L424.9 362.5L424.6 364.4L424.7 366.3L425.2 364.6L425.0 362.9L423.6 361.4L424.7 359.6L424.2 358.0L422.0 357.5L420.0 358.1L417.7 357.1L415.3 357.3L414.1 355.2L414.2 352.7L415.6 351.1L415.7 349.2L415.9 347.3L415.5 345.5L415.6 343.7L416.2 342.0L415.5 340.1L413.9 338.7L411.8 338.2L410.1 336.5L409.6 334.5L408.3 332.7L409.5 330.8L409.4 328.7L410.6 327.6L411.3 326.1L412.1 324.8L412.9 323.0L413.4 321.2L413.2 319.3L414.3 317.7L414.7 315.8L415.4 314.0L415.9 312.2L417.2 310.7L417.4 308.7L417.2 306.8L417.4 305.1L417.9 303.3L418.7 301.6L418.7 299.5L420.0 298.0M456.0 322.3L457.8 320.9L460.0 320.7L461.8 320.4L463.6 320.3L465.4 320.1L467.2 319.4L468.8 321.0L470.7 320.7L472.4 321.0L474.2 321.4L476.0 321.5L477.8 320.9L479.5 320.8L481.4 320.8L483.5 322.5L481.3 322.9L479.3 323.5L479.7 325.5L478.6 327.1M502.0 278.0L503.1 279.5L504.5 280.8L503.5 282.5L501.8 283.9L500.0 284.3L498.0 284.7L496.1 282.6L496.3 284.4L494.8 285.7L494.6 287.3L494.5 289.2L493.2 290.7L493.4 292.7L492.9 294.5L492.4 296.2L491.9 298.0L491.8 299.9L490.8 301.6L490.0 303.3L488.9 305.3L487.9 307.3L489.6 308.4L490.6 310.1L492.6 309.2L494.7 308.7L494.1 306.9L494.2 305.1L494.2 303.3L494.7 301.6L495.3 299.9L495.3 298.0L495.7 296.1L496.4 294.3L497.4 292.7L498.8 291.5L500.1 290.1L501.8 288.6L504.0 288.8L504.5 291.4L503.0 292.6L501.4 294.1L500.6 296.1L499.5 298.1L501.7 297.8L504.0 298.8L504.9 300.1L505.9 301.4L503.9 301.2L502.0 301.8L500.2 303.2L498.6 304.6L498.9 306.5L499.3 308.3L500.0 310.0L500.7 312.1L502.1 313.9L500.4 313.1L498.7 312.7L496.5 312.9L494.7 314.2L493.7 315.7L492.1 316.8L492.2 318.8L493.2 320.7L495.4 321.3L497.6 321.4M478.7 335.3L480.9 334.8L482.7 333.4L485.0 333.8L487.3 333.9L488.9 335.1L490.0 336.6L489.6 338.4L488.7 340.0L486.3 339.8L484.0 339.8L481.8 340.0L480.0 338.6L478.6 337.3L478.5 335.4M492.7 335.3L494.5 334.9L495.8 333.7L497.4 332.8L499.1 332.1L500.7 331.0L502.7 331.3L504.5 331.3L506.3 331.6L508.0 330.9L509.8 331.1L511.6 331.4L513.4 331.8L515.0 332.7L517.0 332.5L518.7 333.3M494.7 338.3L496.2 337.0L498.0 336.4L500.0 336.7L501.7 335.8L503.6 337.0L505.3 335.8L507.2 336.4L508.8 335.0L510.6 335.1L512.2 335.9L513.9 335.5L515.4 336.5L517.1 335.9L518.7 336.5M497.3 334.0L497.6 336.1L498.6 338.0M504.0 332.7L504.4 334.3L505.5 335.5L506.8 336.6M382.7 383.3L384.7 383.2L386.7 382.7L387.7 384.3L388.5 386.1L388.0 388.2L386.5 389.9L384.7 389.7L382.7 390.2L381.0 389.1L380.7 387.3L382.1 385.6L382.5 383.3M390.0 386.0L391.5 384.7L393.4 384.1L395.3 384.5L396.6 386.1L396.0 388.0L395.5 390.1L393.3 390.2L391.3 390.0L390.6 388.0L390.1 386.0M397.3 384.7L399.1 383.2L401.4 382.8L403.1 382.7L404.9 383.3L406.7 383.4L408.1 384.1L409.4 385.0L410.6 386.1M438.0 384.7L439.8 384.9L441.2 384.2L442.7 383.4L444.3 382.8L445.9 382.3L447.7 383.6L449.3 382.7L450.9 383.4L452.7 382.7L454.3 383.3L456.0 383.5L457.7 383.7L459.3 383.2L461.0 382.5L462.7 382.6L464.3 383.5L466.0 382.8L467.6 383.5L469.3 383.4L471.5 383.3L473.4 382.1M439.3 386.3L441.1 385.6L442.9 384.8L444.8 384.9L446.7 384.9L448.3 385.2L449.8 385.6L451.4 385.8L453.1 384.5L454.7 385.5L456.3 385.7L457.9 385.7L459.5 385.0L461.0 384.4L462.7 384.8L464.3 385.2L465.9 385.1L467.4 385.5L469.1 384.6L470.7 384.8M454.7 398.7L455.8 397.5L457.2 396.6L457.5 394.7L459.2 394.1L460.1 392.8L461.4 391.5L463.3 391.2L464.9 390.5L466.4 389.4L467.9 388.6L469.5 387.8L471.3 388.0L472.9 387.5L474.4 386.5L475.9 385.8L477.7 386.1L479.3 385.6L480.7 384.4L482.4 384.5L484.0 384.2L485.7 384.4L487.3 383.7L489.0 383.5L490.7 383.4L489.7 385.0L488.3 386.3L486.8 387.4L485.0 387.6L483.5 388.6L481.8 388.8L480.3 389.6L478.7 390.0L477.3 391.3L475.7 392.3L473.3 391.8L472.0 393.4L471.1 395.1L469.2 395.8L467.7 397.0L466.8 398.8M474.0 380.7L475.6 379.9L477.0 378.7L478.7 378.0L480.3 377.0L482.1 376.8L484.0 377.5L486.6 378.8M453.3 353.3L455.0 355.0L456.6 356.7L458.1 358.2L458.5 360.5L460.0 362.0M255.3 249.3L255.9 251.3L257.2 252.7L258.6 254.1L258.6 256.0L260.4 257.4L260.8 259.3L261.3 261.0L261.5 262.6L261.8 264.3L261.5 266.0L261.4 267.7L261.1 269.4L261.9 271.0L261.8 272.7L262.1 274.7L264.0 276.0L264.0 278.0L265.0 279.7L266.3 281.3L266.5 283.4L267.7 285.0L267.9 286.9L268.6 288.7L268.6 290.9L269.9 292.7M229.3 249.3L230.3 250.8L231.1 252.3L232.3 253.6L232.5 255.4L232.2 257.2L233.8 258.6L234.4 260.2L234.1 262.0L235.1 263.7L235.2 265.8L236.5 267.4L237.2 269.0L239.2 269.6L239.3 271.6L240.6 272.7L241.8 274.2L242.8 275.9L245.2 276.2L246.1 277.9L247.0 279.6L248.2 281.2L249.8 282.2L251.4 283.3L252.6 284.6L253.7 286.0L255.7 286.4L256.7 287.9L258.7 288.8L260.5 289.7L262.0 291.3L264.2 291.5L266.0 292.6L268.0 292.1L270.0 292.7M229.3 276.9L231.4 277.6L232.2 279.7L234.1 280.6L235.8 281.2L236.2 283.4L238.1 283.9L239.7 285.6L241.9 286.1L243.5 287.4L245.8 287.3L247.3 288.6L249.0 289.0L249.6 291.0L251.3 291.4L252.6 292.4L254.0 293.0L255.4 293.9L256.9 295.4L258.9 295.7L260.6 296.7L261.9 298.5L262.1 300.6L261.6 303.0L259.9 304.6L259.3 306.6L258.8 308.7L259.9 310.8L262.1 311.9L263.8 312.1L265.6 311.9L267.3 312.6L268.3 314.4L270.0 315.3L271.0 317.0L270.9 318.9L271.4 320.6L271.8 323.0L273.5 324.6L274.7 326.0L276.7 325.8L278.5 324.7L279.4 322.7L279.6 320.8L280.7 319.3L282.6 318.7L284.7 318.6L286.4 320.0L287.4 322.0L287.3 324.2L288.5 326.1L289.9 327.9L292.1 328.5L293.6 329.6L294.6 331.2L292.8 332.3L290.6 331.8L288.7 332.7L286.1 331.2L286.1 333.6L284.6 335.3L284.8 337.0L285.0 338.6L285.1 340.2L283.6 341.7L284.0 343.3L284.5 344.9L284.1 346.5L283.3 348.1L284.5 349.7L284.0 351.3L284.4 353.0L284.2 354.6L283.2 356.1L283.1 357.7L283.5 359.3L283.3 361.5L282.2 363.4L281.2 365.1L280.7 367.1M299.3 330.0L300.8 328.7L302.6 327.9L304.6 328.5L306.7 328.7L307.9 331.4L306.6 332.6L305.4 334.1L303.3 334.7L301.3 333.9L300.2 332.1L299.4 330.0M235.3 322.0L236.7 323.4L236.2 325.5L237.6 326.9L237.9 328.7L238.9 330.4L240.7 331.3L242.1 332.5L242.9 334.5L244.7 335.3L245.6 337.1L247.4 337.9L249.0 339.0L249.6 341.0L251.4 342.0L253.0 342.6L254.1 343.8L255.2 345.1L256.8 345.8L258.0 347.0L259.4 347.9L260.7 349.0L262.1 349.9L263.1 351.6L264.3 353.0L265.9 354.1L267.5 354.7L268.5 356.1L270.0 356.6L271.9 357.7L274.1 357.8L276.2 357.9L278.1 356.8L279.1 358.0L280.2 359.3L281.3 360.7M363.3 270.0L361.6 270.4L360.1 271.7L358.0 270.7L356.6 272.3L354.9 272.9L353.2 273.5L351.4 273.4L349.6 273.2L348.1 274.7L346.5 275.0L344.7 274.6L343.1 275.5L341.5 276.1L339.6 275.5L338.0 276.0L337.5 277.5L336.8 279.0L336.8 280.7L335.9 282.2L336.1 283.8L337.0 285.5L336.7 287.1L336.0 288.7L334.3 288.3L332.6 288.1L330.4 287.5L328.6 286.0L327.0 286.8L325.1 286.3L323.3 286.5L321.6 285.7L320.7 284.0L318.5 284.6L316.7 286.1L315.2 287.8L314.5 289.9L314.6 291.8L314.3 293.6L313.9 295.3L314.3 297.0L314.8 298.6L314.3 300.5L315.2 302.0L316.0 303.7L316.6 305.5L316.7 307.3L317.6 308.6L317.8 310.4L319.2 311.4L320.2 313.1L321.9 314.1L321.9 315.9L323.6 317.4L323.3 319.3L323.1 321.3L323.5 323.1L324.8 324.6L325.2 326.4L325.3 328.3L326.1 330.0L327.8 330.5L329.7 330.2L331.3 331.3L333.1 331.6L335.0 331.0L336.7 331.9L338.5 333.1L340.6 332.8L340.4 334.4L341.4 335.8L341.9 337.4L344.3 336.9L346.1 335.5L347.8 334.0L350.0 334.1L351.9 333.0L354.0 332.7L356.2 333.3L358.0 334.7L359.7 335.6L361.5 335.3L363.3 335.2L365.3 336.0L367.3 336.6L367.0 338.5L368.3 339.9L368.6 341.6L368.6 343.3L370.2 342.1L372.3 342.1L374.1 341.5L375.8 340.5L377.4 339.2L379.3 338.7L381.4 337.7L383.3 336.5L383.2 334.7L383.7 333.0L384.6 331.3L383.9 329.4L383.3 327.4L383.6 325.4L384.0 323.5L385.4 322.0L386.5 320.4L386.8 318.5L387.4 316.7L388.6 315.4L389.2 313.5L390.7 312.5M373.3 255.3L375.0 254.0L376.7 252.7L378.1 251.7L379.3 250.4L380.6 249.3M181.3 247.3L182.2 249.0L182.7 250.8L182.7 252.7L183.9 254.3L184.8 256.3L186.2 257.9L187.5 259.2L188.3 261.1L190.3 261.7L191.3 263.3L192.7 264.7L194.2 265.8L194.8 267.9L196.7 268.6L197.7 270.3L199.7 270.9L201.2 272.2L201.9 274.1L203.1 275.3L204.6 276.2L205.1 277.9L206.0 279.3L207.1 280.9L209.1 281.6L210.1 283.3L210.9 284.8L212.5 285.4L214.1 285.9L215.1 287.2L216.0 288.5L216.6 290.0L217.2 291.8L217.5 293.8L218.5 295.4L219.3 297.1L219.6 299.0L220.6 300.7L221.6 302.2L223.1 303.1M236.0 322.0L236.2 323.9L237.0 325.7L237.8 327.4L239.5 328.3L239.5 330.4L241.6 330.9L241.9 332.7L243.2 334.1L244.7 335.3L245.9 336.8L247.3 338.1L248.8 339.2L249.9 340.7L251.0 342.1L252.6 342.8L254.1 343.5L255.3 344.7L256.7 345.6L257.8 347.0L259.5 347.4L260.7 348.6L261.9 350.1L263.5 351.2L264.7 352.6L265.7 354.3L266.9 355.7L268.7 356.7L270.7 358.7M181.3 247.3L183.3 248.3L184.7 249.9L186.6 250.1L188.2 251.4L190.0 252.0L191.9 251.8L193.4 253.5L195.4 253.3L197.1 253.9L198.9 253.9L200.7 253.5L202.8 253.6L204.7 254.6L205.0 256.4L207.1 256.9L207.5 258.6L208.9 260.4L210.7 262.0L211.9 263.9L213.9 264.8L215.3 265.8L216.2 267.5L218.0 268.0L219.3 269.1L220.5 270.4L222.0 271.3L223.5 272.3L224.6 273.7L226.0 274.6L226.8 276.8L228.6 278.0L230.0 278.9L231.7 279.2L232.7 280.6L234.1 281.4L235.3 282.5L236.7 283.4L238.8 283.6L240.7 282.8L242.7 283.6L244.7 284.6L245.9 286.1L247.2 287.5L249.4 287.8L251.3 288.7L252.9 289.8L255.1 289.5L256.7 290.6L258.3 292.4L260.6 292.8L262.0 293.7L263.4 294.5L261.9 295.9L261.3 297.6L260.6 299.3L259.5 300.9L259.2 302.7L259.4 304.7L260.5 306.3L261.0 308.1L261.3 310.0L262.9 310.5L264.6 310.4L266.0 311.2L267.9 312.5L270.0 313.4L270.7 314.8L270.1 316.7L271.3 318.0L272.5 319.6L272.4 321.5L272.6 323.4M225.3 236.0L226.3 237.9L226.4 240.1L227.5 241.9L228.3 243.6L228.2 245.5L229.2 247.1L229.9 248.7L230.8 250.2L230.7 252.0L230.9 253.7L231.4 255.3L231.8 257.1L232.6 258.7L232.6 260.6L234.0 262.0L235.0 263.7L236.3 265.3L236.8 267.3L237.2 269.3L239.0 270.6L239.5 272.6L241.0 273.6L242.0 275.4L243.2 276.8L244.6 277.8L245.7 279.1L247.8 279.1L248.8 280.5L249.7 282.0L251.5 282.4L252.5 283.9L254.0 284.6L256.1 285.3L257.8 286.6L259.4 287.9L260.3 289.4L261.9 289.9L263.4 290.6L266.0 292.0M231.3 229.3L232.0 230.8L232.9 232.2L232.5 234.0L234.4 235.0L235.9 236.4L238.0 236.6L239.7 237.3L241.7 237.2L243.4 237.8L244.3 239.6L245.7 240.5L247.5 240.8L248.6 242.1L249.6 243.7L251.6 244.4L252.6 246.1L253.9 247.5L255.0 248.7L255.4 250.4L257.3 251.1L258.0 252.6L258.2 254.4L259.4 255.9L259.8 257.6L259.9 259.4L260.2 261.0L259.9 262.7L260.9 264.3L260.8 266.0L261.2 267.6L261.8 269.2L260.9 271.1L262.1 272.7L262.6 274.4L263.9 275.8L263.9 277.7L264.7 279.3L265.5 281.1L266.7 282.6L266.8 284.6L266.6 286.6L267.8 288.2L268.1 290.0L267.5 292.7M186.0 275.3L188.1 275.8L190.0 276.8L191.8 277.4L192.5 279.2L194.0 279.9L195.3 281.2L195.5 283.0M186.8 276.7L188.5 277.1L189.6 278.2L190.4 279.9L192.4 279.9L193.4 281.3L194.6 282.4M199.3 289.3L201.1 289.5L202.6 288.5L204.5 290.2L205.9 292.1L207.2 293.9L207.8 296.1L206.1 297.4L204.7 295.7L202.7 295.3L201.0 293.9L200.0 292.0L199.2 289.4M214.7 313.3L217.4 312.7L218.5 313.8L218.6 315.7L220.0 316.7L220.9 318.6L221.4 320.6L219.3 321.3L217.7 320.3L216.8 318.6L215.4 317.1L215.4 315.1L214.7 313.3M223.3 323.3L225.3 324.7L226.6 326.7M228.0 328.7L229.3 330.1L230.1 331.8L231.4 333.2L232.7 334.6M224.0 324.1L226.3 326.2M228.7 329.7L230.3 330.7L231.4 332.3L232.0 334.1M166.7 232.0L168.1 234.6L168.4 236.3L169.5 237.7M167.3 232.7L168.0 234.8L169.0 236.9M241.3 283.3L244.0 282.7L245.4 285.3L242.7 286.8L241.7 285.1L241.2 283.4M317.3 169.3L318.3 171.1L317.7 173.1L318.7 174.8L318.7 176.7L317.8 178.4L317.8 180.2L317.8 182.0L317.0 183.6L317.7 185.7L316.8 187.4L316.7 189.2L315.1 190.3L314.6 192.0L313.3 193.5L311.6 194.8L310.0 196.0L308.1 196.6L306.6 198.1L304.6 198.5L303.0 199.8L301.0 200.3L299.4 201.4L297.8 202.6L295.5 202.0L294.0 203.2L292.5 203.9L291.7 205.7L290.1 206.2M373.3 254.7L374.6 252.6L376.6 251.2L377.8 249.8L379.2 248.5L380.5 247.2L381.4 245.8L382.8 244.8L383.3 243.0L384.8 242.1L385.6 240.7L386.7 239.5L387.3 237.9L388.9 236.3L390.7 234.7L393.3 233.3L395.0 234.6L395.2 236.7L395.9 238.2L397.4 239.1L398.2 240.6L398.4 242.3L399.6 243.4L400.8 244.6L402.7 245.4L404.6 246.4L405.9 248.1L408.0 248.5L409.3 250.4L411.3 250.8L412.6 252.1L412.6 254.0L411.4 255.0L409.8 255.4L408.6 256.6L406.8 257.7L404.7 258.2L403.3 259.8L403.4 262.0L401.1 262.0L399.3 263.3L397.8 263.9L396.4 264.7L395.3 266.0L394.0 267.2L393.1 268.8L391.3 269.3L393.4 270.2L395.3 271.3L396.2 273.2L398.4 273.6L399.3 275.4L400.5 276.9L399.9 279.0L400.5 280.7L401.5 282.4L401.5 284.2L401.8 286.0L403.2 287.5L404.6 288.7L406.1 289.9L407.8 290.8L408.8 292.5L410.0 294.0L410.0 295.7L409.4 297.2L408.8 298.7M160.7 171.1L160.1 172.9L160.0 174.8L160.1 176.7L160.1 178.4L159.4 180.0L159.3 181.7L158.8 183.3L158.8 185.0L158.6 186.7L157.3 188.2L157.7 190.0L156.2 192.7M159.7 172.0L159.8 173.8L158.8 175.4L159.0 177.2L158.5 178.9L158.8 180.7L158.1 182.3L158.0 184.0L157.9 185.7L157.2 187.3L156.8 188.9L157.2 190.7M161.6 174.0L161.7 175.6L161.4 177.2L161.5 178.9L161.6 180.5L160.8 182.0L160.8 183.7L159.7 185.1L159.7 186.8L159.9 188.5L159.0 190.0M166.9 232.7L168.0 235.3L169.1 238.0M167.7 232.0L168.9 233.6L169.6 235.3L169.8 237.3M161.3 222.7L161.6 224.4L162.8 225.6L164.1 226.6L165.2 225.5L166.4 224.4L166.7 222.7M164.0 226.7L165.5 228.6M278.0 367.3L279.1 366.1L280.1 364.9L280.8 363.4L282.3 362.6L283.2 361.2L285.1 361.7L286.7 360.9L288.4 360.5L290.0 360.2L291.6 360.4L293.4 359.9L295.0 360.1L296.7 360.5L298.7 360.6L300.1 362.4L302.0 362.8L303.7 362.7L305.4 362.8L307.0 363.9L308.6 364.1L308.7 365.9L310.1 367.3L311.6 368.1L313.2 368.5L314.9 368.7L316.7 368.6L318.4 368.3L319.9 369.5L321.7 368.9L323.3 369.3L325.1 369.3L326.9 368.9L328.7 369.2L329.7 367.0L331.2 365.2L334.0 364.7L335.2 365.8L336.6 366.8L338.4 367.2L340.1 367.8L342.0 367.5L343.8 367.8L345.6 368.2L347.4 368.5L349.2 368.6L350.9 369.2L352.7 369.2L354.4 369.9L356.3 369.2L358.0 370.0L359.8 370.6L361.5 369.1L363.3 369.4L364.8 370.3L366.3 371.1L364.6 371.7L363.4 373.0L361.7 372.3L360.0 372.2L358.3 372.3L356.7 372.8L354.9 373.0L353.1 372.2L351.3 372.3L349.7 370.7M352.7 369.6L353.4 371.2L353.8 372.9L354.2 374.7L355.8 375.6L357.5 376.2L359.4 375.9L361.3 375.7L363.3 376.0L364.6 377.4L366.0 378.6L366.8 380.6L366.8 382.6L367.9 383.8L368.7 385.3L369.6 386.8M278.0 367.3L279.0 368.8L280.3 369.6L281.9 370.2L283.5 371.2L285.3 371.2L286.9 372.0L288.7 371.8L289.9 374.7L291.6 375.2L293.4 375.0L295.0 375.8L296.6 376.2L298.3 376.3L300.0 376.9L301.7 376.7L303.3 377.3L305.0 378.2L307.0 377.0L308.7 377.9L310.5 378.1L312.2 377.5L314.0 377.2L315.6 377.9L317.4 377.8L319.0 378.5L320.7 378.6L322.4 379.4L324.2 380.1L326.0 380.6L327.8 380.4L329.4 380.8L330.9 382.3L332.7 382.0L334.5 381.7L335.9 383.2L337.7 382.6L339.4 383.2L341.1 383.6L342.9 383.4L344.7 384.0L346.4 384.5L348.3 384.5L350.0 385.4L351.7 384.5L353.6 384.9L355.3 384.7L357.3 384.5L358.9 385.4L360.7 385.8L362.5 386.4L364.1 387.5L366.0 387.4L367.9 387.3L369.8 386.8M284.7 319.3L285.4 321.1L284.2 323.1L284.8 324.9L285.5 326.7L284.5 328.2L284.8 330.0L284.8 331.8L283.8 333.3L284.1 335.0L283.9 336.7L285.1 338.3L284.6 340.0L285.5 341.6L285.4 343.3L285.4 345.0L285.5 346.6L285.0 348.3L285.5 350.0L285.2 351.7L284.6 353.3L284.6 355.0L283.7 356.6L284.0 358.3L283.9 360.0L282.6 361.3L280.9 362.2L279.9 363.9L279.5 365.9L277.9 367.3M269.3 358.7L271.7 358.7L274.0 359.4L276.0 360.0L278.0 360.1L279.8 360.9L280.7 362.6M372.7 382.7L374.7 382.7L376.7 382.2L377.4 383.5L378.8 384.6L376.6 386.6L374.8 386.6L373.3 385.3L372.8 382.6M390.0 389.3L391.8 388.1L394.1 388.2L395.2 386.8L395.7 385.1L396.6 383.7L398.0 382.7L399.8 383.0L401.6 382.4L403.3 381.8L405.3 381.7L407.0 382.3L408.6 383.5M390.7 386.7L392.6 385.9L394.7 386.3L396.7 385.9L398.4 386.0L400.0 385.1L401.6 384.4L403.4 384.8L405.1 385.2L406.8 385.8L408.6 386.1M375.3 349.6L377.3 349.6L378.6 348.1L381.0 349.0" fill="none" stroke="#000" stroke-width="2.1" stroke-linejoin="round" stroke-linecap="round"/>
<path d="M98.2 71.3a1.4 1.4 0 1 0 2.8 0a1.4 1.4 0 1 0 -2.8 0M100.8 63.3a0.9 0.9 0 1 0 1.7 0a0.9 0.9 0 1 0 -1.7 0M153.0 80.0a1.6 1.6 0 1 0 3.3 0a1.6 1.6 0 1 0 -3.3 0M191.6 56.3a1.1 1.1 0 1 0 2.2 0a1.1 1.1 0 1 0 -2.2 0M229.0 49.7a1.2 1.2 0 1 0 2.5 0a1.2 1.2 0 1 0 -2.5 0M233.7 42.0a1.0 1.0 0 1 0 2.0 0a1.0 1.0 0 1 0 -2.0 0M229.7 151.3a1.0 1.0 0 1 0 2.0 0a1.0 1.0 0 1 0 -2.0 0M229.7 151.1a1.0 1.0 0 1 0 2.0 0a1.0 1.0 0 1 0 -2.0 0M250.2 140.7a1.1 1.1 0 1 0 2.2 0a1.1 1.1 0 1 0 -2.2 0M267.0 136.0a1.0 1.0 0 1 0 2.0 0a1.0 1.0 0 1 0 -2.0 0M163.7 166.7a1.0 1.0 0 1 0 2.0 0a1.0 1.0 0 1 0 -2.0 0M165.8 158.7a0.9 0.9 0 1 0 1.7 0a0.9 0.9 0 1 0 -1.7 0M260.5 214.0a0.9 0.9 0 1 0 1.7 0a0.9 0.9 0 1 0 -1.7 0M291.0 219.1a1.0 1.0 0 1 0 2.0 0a1.0 1.0 0 1 0 -2.0 0M309.8 188.4a0.9 0.9 0 1 0 1.7 0a0.9 0.9 0 1 0 -1.7 0M313.1 201.7a0.9 0.9 0 1 0 1.7 0a0.9 0.9 0 1 0 -1.7 0M162.6 225.3a1.4 1.4 0 1 0 2.8 0a1.4 1.4 0 1 0 -2.8 0M166.6 233.3a1.1 1.1 0 1 0 2.2 0a1.1 1.1 0 1 0 -2.2 0M167.2 236.7a1.1 1.1 0 1 0 2.2 0a1.1 1.1 0 1 0 -2.2 0M219.8 240.4a0.9 0.9 0 1 0 1.7 0a0.9 0.9 0 1 0 -1.7 0M224.6 241.3a1.4 1.4 0 1 0 2.8 0a1.4 1.4 0 1 0 -2.8 0M206.8 182.0a1.2 1.2 0 1 0 2.5 0a1.2 1.2 0 1 0 -2.5 0M208.6 186.0a1.4 1.4 0 1 0 2.8 0a1.4 1.4 0 1 0 -2.8 0M210.1 190.0a1.2 1.2 0 1 0 2.5 0a1.2 1.2 0 1 0 -2.5 0M208.3 194.0a1.2 1.2 0 1 0 2.5 0a1.2 1.2 0 1 0 -2.5 0M207.6 199.3a1.2 1.2 0 1 0 2.5 0a1.2 1.2 0 1 0 -2.5 0M210.2 202.7a1.1 1.1 0 1 0 2.2 0a1.1 1.1 0 1 0 -2.2 0M209.0 207.3a1.1 1.1 0 1 0 2.2 0a1.1 1.1 0 1 0 -2.2 0M206.5 211.3a1.0 1.0 0 1 0 2.0 0a1.0 1.0 0 1 0 -2.0 0M204.4 188.7a1.0 1.0 0 1 0 2.0 0a1.0 1.0 0 1 0 -2.0 0M225.7 206.0a1.0 1.0 0 1 0 2.0 0a1.0 1.0 0 1 0 -2.0 0M226.9 210.0a1.1 1.1 0 1 0 2.2 0a1.1 1.1 0 1 0 -2.2 0M251.0 188.7a1.0 1.0 0 1 0 2.0 0a1.0 1.0 0 1 0 -2.0 0M260.2 196.7a1.1 1.1 0 1 0 2.2 0a1.1 1.1 0 1 0 -2.2 0M253.1 60.0a1.5 1.5 0 1 0 3.0 0a1.5 1.5 0 1 0 -3.0 0M255.3 58.7a1.0 1.0 0 1 0 2.0 0a1.0 1.0 0 1 0 -2.0 0M252.4 62.7a1.0 1.0 0 1 0 2.0 0a1.0 1.0 0 1 0 -2.0 0M251.6 71.3a1.1 1.1 0 1 0 2.1 0a1.1 1.1 0 1 0 -2.1 0M366.6 69.3a1.4 1.4 0 1 0 2.8 0a1.4 1.4 0 1 0 -2.8 0M266.9 136.4a1.1 1.1 0 1 0 2.1 0a1.1 1.1 0 1 0 -2.1 0M250.9 140.7a1.1 1.1 0 1 0 2.1 0a1.1 1.1 0 1 0 -2.1 0M414.7 72.4a1.3 1.3 0 1 0 2.6 0a1.3 1.3 0 1 0 -2.6 0M434.0 82.0a0.9 0.9 0 1 0 1.8 0a0.9 0.9 0 1 0 -1.8 0M434.3 88.0a1.1 1.1 0 1 0 2.1 0a1.1 1.1 0 1 0 -2.1 0M437.1 100.0a0.9 0.9 0 1 0 1.8 0a0.9 0.9 0 1 0 -1.8 0M437.5 104.0a1.2 1.2 0 1 0 2.4 0a1.2 1.2 0 1 0 -2.4 0M438.3 113.3a1.1 1.1 0 1 0 2.1 0a1.1 1.1 0 1 0 -2.1 0M432.9 115.3a1.1 1.1 0 1 0 2.1 0a1.1 1.1 0 1 0 -2.1 0M431.6 118.0a1.1 1.1 0 1 0 2.1 0a1.1 1.1 0 1 0 -2.1 0M437.3 119.1a1.1 1.1 0 1 0 2.1 0a1.1 1.1 0 1 0 -2.1 0M470.0 60.0a1.3 1.3 0 1 0 2.6 0a1.3 1.3 0 1 0 -2.6 0M448.3 63.6a1.0 1.0 0 1 0 2.0 0a1.0 1.0 0 1 0 -2.0 0M484.3 44.0a1.1 1.1 0 1 0 2.1 0a1.1 1.1 0 1 0 -2.1 0M489.7 45.7a1.0 1.0 0 1 0 2.0 0a1.0 1.0 0 1 0 -2.0 0M455.6 64.9a1.1 1.1 0 1 0 2.2 0a1.1 1.1 0 1 0 -2.2 0M460.1 62.7a1.2 1.2 0 1 0 2.5 0a1.2 1.2 0 1 0 -2.5 0M404.3 236.0a1.1 1.1 0 1 0 2.1 0a1.1 1.1 0 1 0 -2.1 0M465.7 238.7a1.0 1.0 0 1 0 2.0 0a1.0 1.0 0 1 0 -2.0 0M488.4 257.3a0.9 0.9 0 1 0 1.8 0a0.9 0.9 0 1 0 -1.8 0M484.9 260.7a1.1 1.1 0 1 0 2.2 0a1.1 1.1 0 1 0 -2.2 0M483.6 266.0a1.1 1.1 0 1 0 2.2 0a1.1 1.1 0 1 0 -2.2 0M472.2 268.7a1.1 1.1 0 1 0 2.2 0a1.1 1.1 0 1 0 -2.2 0M471.6 272.0a1.1 1.1 0 1 0 2.1 0a1.1 1.1 0 1 0 -2.1 0M471.0 276.7a1.0 1.0 0 1 0 2.0 0a1.0 1.0 0 1 0 -2.0 0M420.1 252.7a1.2 1.2 0 1 0 2.5 0a1.2 1.2 0 1 0 -2.5 0M417.6 254.7a1.1 1.1 0 1 0 2.2 0a1.1 1.1 0 1 0 -2.2 0M414.2 257.3a1.1 1.1 0 1 0 2.2 0a1.1 1.1 0 1 0 -2.2 0M419.2 186.0a1.5 1.5 0 1 0 3.0 0a1.5 1.5 0 1 0 -3.0 0M429.1 196.0a0.9 0.9 0 1 0 1.8 0a0.9 0.9 0 1 0 -1.8 0M428.4 198.7a0.9 0.9 0 1 0 1.8 0a0.9 0.9 0 1 0 -1.8 0M425.2 243.3a1.5 1.5 0 1 0 3.0 0a1.5 1.5 0 1 0 -3.0 0M474.9 234.0a1.1 1.1 0 1 0 2.2 0a1.1 1.1 0 1 0 -2.2 0M470.9 250.0a1.1 1.1 0 1 0 2.2 0a1.1 1.1 0 1 0 -2.2 0M437.4 159.3a1.2 1.2 0 1 0 2.5 0a1.2 1.2 0 1 0 -2.5 0M442.9 167.3a1.1 1.1 0 1 0 2.2 0a1.1 1.1 0 1 0 -2.2 0M405.5 282.0a1.2 1.2 0 1 0 2.4 0a1.2 1.2 0 1 0 -2.4 0M389.1 296.7a0.9 0.9 0 1 0 1.8 0a0.9 0.9 0 1 0 -1.8 0M384.0 306.0a1.3 1.3 0 1 0 2.6 0a1.3 1.3 0 1 0 -2.6 0M381.6 308.0a1.1 1.1 0 1 0 2.1 0a1.1 1.1 0 1 0 -2.1 0M379.8 350.0a0.9 0.9 0 1 0 1.8 0a0.9 0.9 0 1 0 -1.8 0M399.6 355.3a1.1 1.1 0 1 0 2.1 0a1.1 1.1 0 1 0 -2.1 0M472.9 272.0a1.1 1.1 0 1 0 2.1 0a1.1 1.1 0 1 0 -2.1 0M471.7 276.7a1.0 1.0 0 1 0 2.0 0a1.0 1.0 0 1 0 -2.0 0M471.0 280.0a1.0 1.0 0 1 0 2.0 0a1.0 1.0 0 1 0 -2.0 0M471.3 283.3a1.0 1.0 0 1 0 2.0 0a1.0 1.0 0 1 0 -2.0 0M440.2 350.0a2.5 2.5 0 1 0 4.9 0a2.5 2.5 0 1 0 -4.9 0M443.6 352.7a2.5 2.5 0 1 0 4.9 0a2.5 2.5 0 1 0 -4.9 0M445.3 348.0a2.1 2.1 0 1 0 4.1 0a2.1 2.1 0 1 0 -4.1 0M442.2 355.3a1.8 1.8 0 1 0 3.6 0a1.8 1.8 0 1 0 -3.6 0M448.8 318.0a1.9 1.9 0 1 0 3.8 0a1.9 1.9 0 1 0 -3.8 0M451.3 315.3a1.4 1.4 0 1 0 2.8 0a1.4 1.4 0 1 0 -2.8 0M448.9 338.3a1.1 1.1 0 1 0 2.1 0a1.1 1.1 0 1 0 -2.1 0M435.7 305.3a1.0 1.0 0 1 0 2.0 0a1.0 1.0 0 1 0 -2.0 0M420.4 316.0a0.9 0.9 0 1 0 1.8 0a0.9 0.9 0 1 0 -1.8 0M425.4 321.3a1.2 1.2 0 1 0 2.5 0a1.2 1.2 0 1 0 -2.5 0M492.3 382.7a1.1 1.1 0 1 0 2.1 0a1.1 1.1 0 1 0 -2.1 0M494.9 382.7a1.1 1.1 0 1 0 2.1 0a1.1 1.1 0 1 0 -2.1 0M504.3 382.7a1.1 1.1 0 1 0 2.1 0a1.1 1.1 0 1 0 -2.1 0M512.0 379.3a1.4 1.4 0 1 0 2.8 0a1.4 1.4 0 1 0 -2.8 0M514.2 380.7a1.1 1.1 0 1 0 2.2 0a1.1 1.1 0 1 0 -2.2 0M502.1 372.0a1.2 1.2 0 1 0 2.4 0a1.2 1.2 0 1 0 -2.4 0M507.0 370.0a1.0 1.0 0 1 0 2.0 0a1.0 1.0 0 1 0 -2.0 0M511.0 368.4a1.0 1.0 0 1 0 2.0 0a1.0 1.0 0 1 0 -2.0 0M490.2 376.7a1.1 1.1 0 1 0 2.2 0a1.1 1.1 0 1 0 -2.2 0M488.3 380.7a1.0 1.0 0 1 0 2.0 0a1.0 1.0 0 1 0 -2.0 0M436.2 374.0a1.1 1.1 0 1 0 2.2 0a1.1 1.1 0 1 0 -2.2 0M427.0 369.3a1.0 1.0 0 1 0 2.0 0a1.0 1.0 0 1 0 -2.0 0M496.5 319.6a1.5 1.5 0 1 0 3.0 0a1.5 1.5 0 1 0 -3.0 0M510.4 314.7a0.9 0.9 0 1 0 1.8 0a0.9 0.9 0 1 0 -1.8 0M514.4 315.3a0.9 0.9 0 1 0 1.8 0a0.9 0.9 0 1 0 -1.8 0M515.0 308.0a1.0 1.0 0 1 0 2.0 0a1.0 1.0 0 1 0 -2.0 0M513.8 301.3a0.9 0.9 0 1 0 1.7 0a0.9 0.9 0 1 0 -1.7 0M514.9 321.3a1.1 1.1 0 1 0 2.2 0a1.1 1.1 0 1 0 -2.2 0M514.4 347.3a0.9 0.9 0 1 0 1.8 0a0.9 0.9 0 1 0 -1.8 0M483.2 336.0a0.8 0.8 0 1 0 1.6 0a0.8 0.8 0 1 0 -1.6 0M509.1 303.3a0.9 0.9 0 1 0 1.7 0a0.9 0.9 0 1 0 -1.7 0M303.7 258.0a1.0 1.0 0 1 0 2.0 0a1.0 1.0 0 1 0 -2.0 0M305.0 265.3a1.7 1.7 0 1 0 3.4 0a1.7 1.7 0 1 0 -3.4 0M311.5 274.7a1.2 1.2 0 1 0 2.4 0a1.2 1.2 0 1 0 -2.4 0M314.3 278.7a1.1 1.1 0 1 0 2.1 0a1.1 1.1 0 1 0 -2.1 0M301.8 274.7a0.9 0.9 0 1 0 1.8 0a0.9 0.9 0 1 0 -1.8 0M296.3 302.0a1.0 1.0 0 1 0 2.0 0a1.0 1.0 0 1 0 -2.0 0M282.0 274.7a1.3 1.3 0 1 0 2.6 0a1.3 1.3 0 1 0 -2.6 0M286.7 271.3a1.3 1.3 0 1 0 2.6 0a1.3 1.3 0 1 0 -2.6 0M286.3 276.7a1.0 1.0 0 1 0 2.0 0a1.0 1.0 0 1 0 -2.0 0M266.8 276.0a1.2 1.2 0 1 0 2.4 0a1.2 1.2 0 1 0 -2.4 0M270.4 280.0a0.9 0.9 0 1 0 1.8 0a0.9 0.9 0 1 0 -1.8 0M343.2 294.7a1.4 1.4 0 1 0 2.9 0a1.4 1.4 0 1 0 -2.9 0M383.2 306.7a1.4 1.4 0 1 0 2.9 0a1.4 1.4 0 1 0 -2.9 0M382.2 308.0a1.1 1.1 0 1 0 2.2 0a1.1 1.1 0 1 0 -2.2 0M327.6 359.3a1.1 1.1 0 1 0 2.1 0a1.1 1.1 0 1 0 -2.1 0M348.1 359.3a1.2 1.2 0 1 0 2.4 0a1.2 1.2 0 1 0 -2.4 0M365.6 356.7a1.1 1.1 0 1 0 2.1 0a1.1 1.1 0 1 0 -2.1 0M367.8 352.0a0.9 0.9 0 1 0 1.7 0a0.9 0.9 0 1 0 -1.7 0M297.6 366.7a1.1 1.1 0 1 0 2.1 0a1.1 1.1 0 1 0 -2.1 0M248.7 355.3a1.3 1.3 0 1 0 2.6 0a1.3 1.3 0 1 0 -2.6 0M245.2 322.0a0.9 0.9 0 1 0 1.7 0a0.9 0.9 0 1 0 -1.7 0M241.2 323.1a0.9 0.9 0 1 0 1.7 0a0.9 0.9 0 1 0 -1.7 0M230.2 331.3a1.1 1.1 0 1 0 2.2 0a1.1 1.1 0 1 0 -2.2 0M267.7 294.0a2.3 2.3 0 1 0 4.6 0a2.3 2.3 0 1 0 -4.6 0M265.5 292.7a1.8 1.8 0 1 0 3.6 0a1.8 1.8 0 1 0 -3.6 0M272.5 293.3a1.5 1.5 0 1 0 3.0 0a1.5 1.5 0 1 0 -3.0 0M262.4 295.3a1.6 1.6 0 1 0 3.3 0a1.6 1.6 0 1 0 -3.3 0M260.5 306.0a1.5 1.5 0 1 0 3.0 0a1.5 1.5 0 1 0 -3.0 0M268.5 307.3a1.5 1.5 0 1 0 3.0 0a1.5 1.5 0 1 0 -3.0 0M271.3 303.3a1.4 1.4 0 1 0 2.8 0a1.4 1.4 0 1 0 -2.8 0M255.4 299.3a1.2 1.2 0 1 0 2.5 0a1.2 1.2 0 1 0 -2.5 0M252.9 295.3a1.1 1.1 0 1 0 2.2 0a1.1 1.1 0 1 0 -2.2 0M242.1 286.0a1.2 1.2 0 1 0 2.5 0a1.2 1.2 0 1 0 -2.5 0M279.9 322.7a1.4 1.4 0 1 0 2.8 0a1.4 1.4 0 1 0 -2.8 0M282.2 324.7a1.1 1.1 0 1 0 2.2 0a1.1 1.1 0 1 0 -2.2 0M316.9 312.7a1.1 1.1 0 1 0 2.2 0a1.1 1.1 0 1 0 -2.2 0M311.6 319.3a1.1 1.1 0 1 0 2.1 0a1.1 1.1 0 1 0 -2.1 0M368.5 352.7a0.9 0.9 0 1 0 1.7 0a0.9 0.9 0 1 0 -1.7 0M278.1 364.7a1.2 1.2 0 1 0 2.5 0a1.2 1.2 0 1 0 -2.5 0M271.3 358.7a1.4 1.4 0 1 0 2.8 0a1.4 1.4 0 1 0 -2.8 0M275.6 357.3a1.1 1.1 0 1 0 2.2 0a1.1 1.1 0 1 0 -2.2 0M303.7 258.0a1.0 1.0 0 1 0 2.0 0a1.0 1.0 0 1 0 -2.0 0M304.9 265.3a1.7 1.7 0 1 0 3.4 0a1.7 1.7 0 1 0 -3.4 0M306.9 264.0a1.1 1.1 0 1 0 2.2 0a1.1 1.1 0 1 0 -2.2 0M285.9 272.0a1.4 1.4 0 1 0 2.9 0a1.4 1.4 0 1 0 -2.9 0M283.5 274.0a1.1 1.1 0 1 0 2.2 0a1.1 1.1 0 1 0 -2.2 0M287.0 276.7a1.0 1.0 0 1 0 2.0 0a1.0 1.0 0 1 0 -2.0 0M301.7 274.0a1.0 1.0 0 1 0 2.0 0a1.0 1.0 0 1 0 -2.0 0M266.9 276.0a1.1 1.1 0 1 0 2.2 0a1.1 1.1 0 1 0 -2.2 0M270.3 279.6a1.0 1.0 0 1 0 2.0 0a1.0 1.0 0 1 0 -2.0 0M255.7 247.3a1.0 1.0 0 1 0 2.0 0a1.0 1.0 0 1 0 -2.0 0M219.7 240.0a1.0 1.0 0 1 0 2.0 0a1.0 1.0 0 1 0 -2.0 0M245.2 322.0a0.9 0.9 0 1 0 1.7 0a0.9 0.9 0 1 0 -1.7 0M241.2 324.0a0.9 0.9 0 1 0 1.7 0a0.9 0.9 0 1 0 -1.7 0M296.4 302.4a1.0 1.0 0 1 0 2.0 0a1.0 1.0 0 1 0 -2.0 0M248.1 355.3a1.2 1.2 0 1 0 2.4 0a1.2 1.2 0 1 0 -2.4 0M206.5 304.0a0.9 0.9 0 1 0 1.7 0a0.9 0.9 0 1 0 -1.7 0M242.3 292.0a1.0 1.0 0 1 0 2.0 0a1.0 1.0 0 1 0 -2.0 0M215.2 278.0a1.5 1.5 0 1 0 3.0 0a1.5 1.5 0 1 0 -3.0 0M216.8 279.6a1.2 1.2 0 1 0 2.5 0a1.2 1.2 0 1 0 -2.5 0M199.4 282.7a1.2 1.2 0 1 0 2.5 0a1.2 1.2 0 1 0 -2.5 0M211.4 303.1a1.2 1.2 0 1 0 2.5 0a1.2 1.2 0 1 0 -2.5 0M213.6 302.7a1.1 1.1 0 1 0 2.2 0a1.1 1.1 0 1 0 -2.2 0M211.5 306.7a1.1 1.1 0 1 0 2.2 0a1.1 1.1 0 1 0 -2.2 0M224.5 240.7a1.5 1.5 0 1 0 3.0 0a1.5 1.5 0 1 0 -3.0 0M225.4 244.7a1.2 1.2 0 1 0 2.5 0a1.2 1.2 0 1 0 -2.5 0M180.8 247.3a1.2 1.2 0 1 0 2.5 0a1.2 1.2 0 1 0 -2.5 0M249.8 291.3a1.5 1.5 0 1 0 3.0 0a1.5 1.5 0 1 0 -3.0 0M253.7 293.3a1.6 1.6 0 1 0 3.3 0a1.6 1.6 0 1 0 -3.3 0M257.7 294.7a1.6 1.6 0 1 0 3.3 0a1.6 1.6 0 1 0 -3.3 0M263.8 292.7a2.2 2.2 0 1 0 4.4 0a2.2 2.2 0 1 0 -4.4 0M268.2 294.0a1.8 1.8 0 1 0 3.6 0a1.8 1.8 0 1 0 -3.6 0M263.2 290.0a1.5 1.5 0 1 0 3.0 0a1.5 1.5 0 1 0 -3.0 0M265.8 304.7a1.5 1.5 0 1 0 3.0 0a1.5 1.5 0 1 0 -3.0 0M269.9 306.7a1.4 1.4 0 1 0 2.8 0a1.4 1.4 0 1 0 -2.8 0M272.2 304.0a1.1 1.1 0 1 0 2.2 0a1.1 1.1 0 1 0 -2.2 0M267.6 301.3a1.1 1.1 0 1 0 2.2 0a1.1 1.1 0 1 0 -2.2 0M260.6 296.7a1.4 1.4 0 1 0 2.8 0a1.4 1.4 0 1 0 -2.8 0M309.7 188.7a1.0 1.0 0 1 0 2.0 0a1.0 1.0 0 1 0 -2.0 0M313.0 201.7a1.0 1.0 0 1 0 2.0 0a1.0 1.0 0 1 0 -2.0 0M290.9 219.3a1.1 1.1 0 1 0 2.1 0a1.1 1.1 0 1 0 -2.1 0M303.7 258.0a1.0 1.0 0 1 0 2.0 0a1.0 1.0 0 1 0 -2.0 0M305.0 265.3a1.7 1.7 0 1 0 3.4 0a1.7 1.7 0 1 0 -3.4 0M301.7 274.7a1.0 1.0 0 1 0 2.0 0a1.0 1.0 0 1 0 -2.0 0M311.6 275.3a1.1 1.1 0 1 0 2.2 0a1.1 1.1 0 1 0 -2.2 0M313.7 279.3a1.0 1.0 0 1 0 2.0 0a1.0 1.0 0 1 0 -2.0 0M404.3 236.0a1.0 1.0 0 1 0 2.0 0a1.0 1.0 0 1 0 -2.0 0M405.5 282.0a1.2 1.2 0 1 0 2.4 0a1.2 1.2 0 1 0 -2.4 0M343.4 294.7a1.3 1.3 0 1 0 2.6 0a1.3 1.3 0 1 0 -2.6 0M429.1 196.7a0.9 0.9 0 1 0 1.7 0a0.9 0.9 0 1 0 -1.7 0M414.2 257.3a1.1 1.1 0 1 0 2.2 0a1.1 1.1 0 1 0 -2.2 0M417.6 255.3a1.1 1.1 0 1 0 2.1 0a1.1 1.1 0 1 0 -2.1 0M420.9 253.3a1.1 1.1 0 1 0 2.2 0a1.1 1.1 0 1 0 -2.2 0M425.1 243.3a1.6 1.6 0 1 0 3.2 0a1.6 1.6 0 1 0 -3.2 0M427.5 248.7a1.1 1.1 0 1 0 2.2 0a1.1 1.1 0 1 0 -2.2 0M418.9 186.7a1.8 1.8 0 1 0 3.6 0a1.8 1.8 0 1 0 -3.6 0M390.1 227.3a1.2 1.2 0 1 0 2.5 0a1.2 1.2 0 1 0 -2.5 0M166.3 159.3a1.0 1.0 0 1 0 2.0 0a1.0 1.0 0 1 0 -2.0 0M162.9 166.7a1.1 1.1 0 1 0 2.1 0a1.1 1.1 0 1 0 -2.1 0M152.4 192.7a0.9 0.9 0 1 0 1.8 0a0.9 0.9 0 1 0 -1.8 0M153.9 200.4a1.5 1.5 0 1 0 3.0 0a1.5 1.5 0 1 0 -3.0 0M157.4 215.3a1.2 1.2 0 1 0 2.5 0a1.2 1.2 0 1 0 -2.5 0M162.9 226.3a1.4 1.4 0 1 0 2.8 0a1.4 1.4 0 1 0 -2.8 0M224.5 240.7a1.5 1.5 0 1 0 3.0 0a1.5 1.5 0 1 0 -3.0 0M225.5 206.0a1.1 1.1 0 1 0 2.2 0a1.1 1.1 0 1 0 -2.2 0M226.9 211.3a1.1 1.1 0 1 0 2.2 0a1.1 1.1 0 1 0 -2.2 0M219.8 240.4a0.9 0.9 0 1 0 1.7 0a0.9 0.9 0 1 0 -1.7 0M203.7 189.3a1.0 1.0 0 1 0 2.0 0a1.0 1.0 0 1 0 -2.0 0M327.6 359.3a1.1 1.1 0 1 0 2.1 0a1.1 1.1 0 1 0 -2.1 0M348.4 359.1a1.2 1.2 0 1 0 2.4 0a1.2 1.2 0 1 0 -2.4 0M365.9 356.0a1.1 1.1 0 1 0 2.1 0a1.1 1.1 0 1 0 -2.1 0M367.7 352.0a1.0 1.0 0 1 0 2.0 0a1.0 1.0 0 1 0 -2.0 0M399.7 355.3a1.0 1.0 0 1 0 2.0 0a1.0 1.0 0 1 0 -2.0 0M297.4 366.3a1.0 1.0 0 1 0 2.0 0a1.0 1.0 0 1 0 -2.0 0M276.5 367.3a1.5 1.5 0 1 0 3.0 0a1.5 1.5 0 1 0 -3.0 0M278.9 365.3a1.1 1.1 0 1 0 2.2 0a1.1 1.1 0 1 0 -2.2 0M397.7 384.0a1.6 1.6 0 1 0 3.3 0a1.6 1.6 0 1 0 -3.3 0M401.8 385.3a1.5 1.5 0 1 0 3.0 0a1.5 1.5 0 1 0 -3.0 0M370.3 382.7a1.0 1.0 0 1 0 2.0 0a1.0 1.0 0 1 0 -2.0 0" fill="#000"/>
</g></defs>
<clipPath id="ca"><rect x="83.0" y="37.0" width="434.5" height="363.2"/></clipPath>
<g clip-path="url(#ca)">
<rect x="81.0" y="35.0" width="438.5" height="367.2" fill="#90c4de"/>
<polygon points="107.1,36.2 207.1,36.2 212.3,45.6 196.7,61.2 192.5,71.7 179.0,94.6 190.4,117.5 205.0,125.8 218.5,136.2 225.8,146.7 230.0,163.3 236.2,175.8 246.7,183.1 263.3,183.1 275.8,175.8 283.1,167.5 277.9,150.8 263.3,136.2 246.7,117.5 240.4,109.2 246.7,98.8 264.4,96.2 271.7,113.3 282.1,127.9 290.4,155.0 294.6,168.5 286.2,188.3 275.8,198.8 265.4,207.1 242.5,199.8 225.8,194.6 215.4,196.7 196.7,194.6 171.7,202.9 161.2,199.8 148.8,190.4 127.9,173.8 109.2,155.0 101.9,142.5 100.8,123.8 96.7,112.3 82.1,113.3 82.1,73.8 95.6,69.6 96.7,44.6" fill="#3f90c6" />
<polygon points="116.5,44.6 124.8,41.5 148.8,42.1 153.3,45.6 149.8,61.2 146.7,70.6 151.9,79.0 162.3,90.4 171.7,107.1 182.1,119.6 194.6,130.0 202.9,140.4 205.0,149.8 193.5,161.7 184.2,158.1 171.7,155.0 162.3,147.7 155.0,134.2 148.8,121.7 140.4,110.2 124.8,93.5 136.2,80.0 141.5,73.8 137.3,67.5 129.0,57.1" fill="#0c5aa6" />
<polygon points="181.0,44.6 191.5,36.9 199.2,44.6 192.5,53.3" fill="#0c5aa6" />
<polygon points="303.0,96.7 311.0,86.7 317.0,89.4 322.0,96.0 315.4,101.0 309.0,102.0" fill="#3f90c6" />
<polygon points="336.0,93.0 341.5,94.6 353.0,88.3 363.3,89.4 366.5,96.7 360.0,102.0 348.8,97.7" fill="#3f90c6" />
<polygon points="429.0,71.7 433.0,67.5 435.8,82.0 435.2,92.5 432.5,108.0 429.0,92.5" fill="#3f90c6" />
<polygon points="390.4,144.6 408.0,128.0 433.0,131.5 438.3,146.7 435.2,159.0 437.3,175.8 438.3,194.6 433.0,204.0 418.5,195.6 405.0,182.0 392.5,168.5" fill="#3f90c6" />
<polygon points="406.0,143.5 410.0,145.5 409.0,149.0 406.7,147.0" fill="#0c5aa6" />
<polygon points="329.0,146.7 335.2,141.5 343.5,146.7 345.6,169.6 336.2,188.3 330.0,171.7" fill="#d4e6f4" />
<polygon points="80.0,194.5 100.0,204.5 108.0,209.5 118.5,218.0 121.7,238.0 115.4,257.0 99.8,273.8 80.0,278.0" fill="#d4e6f4" />
<polygon points="179.0,243.5 191.5,232.0 205.0,243.5 198.8,248.8 192.5,256.0 186.0,249.8" fill="#d4e6f4" />
<polygon points="250.8,267.5 256.0,276.0 262.0,287.0 257.0,305.0 242.5,323.8 246.7,340.4 247.7,361.2 225.8,378.0 193.5,402.0 520.0,402.0 520.0,342.5 509.0,350.8 486.2,348.8 471.7,338.3 482.0,328.0 507.0,315.4 506.0,309.0 490.4,296.7 480.0,265.4 433.0,249.8 418.9,265.4 408.0,287.3 412.0,297.3 433.3,302.0 444.0,308.7 445.3,318.0 438.7,322.7 420.0,323.3 395.0,323.0 367.5,328.0 342.5,338.3 332.0,340.4 307.0,313.3 304.0,292.5 303.0,265.4 288.3,258.0 263.3,258.0" fill="#d4e6f4" />
<path d="M456.7 39.5V47" stroke="#fff" stroke-width="0.8"/>
<use href="#coast"/>
<path d="M463.6 66.5L462.8 64.9M481.7 67.6L480.3 64.0M500.0 67.5L498.4 64.0M138.2 93.0L138.2 90.7M481.6 93.3L480.4 90.1M500.5 92.8L498.6 90.0M79.5 119.1L85.3 114.6M97.2 119.3L103.6 114.3M114.8 119.5L121.9 114.1M133.3 119.5L139.5 114.3M152.3 119.3L156.8 114.8M300.2 119.1L300.2 116.3M336.2 118.6L336.2 116.8M354.8 118.6L354.4 116.8M500.2 118.3L498.9 116.3M77.2 145.2L87.1 139.7M94.9 145.4L105.5 139.5M113.1 145.3L123.3 139.6M131.3 145.1L141.0 139.7M150.4 144.8L158.0 140.2M169.7 143.6L174.5 141.1M189.1 142.9L191.2 141.8M336.5 145.0L336.3 142.2M353.5 145.0L354.0 142.2M371.2 144.9L372.0 142.2M389.3 144.7L389.9 142.4M407.6 144.5L408.0 142.7M76.4 171.7L88.0 165.0M94.4 171.7L106.0 165.0M112.8 171.4L123.5 165.3M130.9 171.1L141.4 165.5M149.6 170.7L158.7 165.9M168.0 170.2L176.3 166.2M186.7 170.2L193.6 166.4M332.8 172.0L336.9 166.2M350.7 171.8L354.9 166.3M368.9 171.5L372.7 166.6M387.2 171.1L390.4 167.0M405.4 170.0L407.7 167.7M76.9 197.5L87.5 191.1M94.9 197.5L105.5 191.1M113.1 197.3L123.3 191.2M131.2 197.1L141.2 191.4M150.2 196.3L158.1 192.1M167.9 196.0L176.2 192.1M186.3 195.8L193.9 192.3M224.1 194.9L228.1 193.2M240.8 195.6L247.4 192.5M314.6 195.8L318.1 193.2M331.0 197.7L337.9 191.6M349.2 197.0L355.6 192.0M367.9 196.7L373.0 192.5M386.5 196.5L390.5 192.9M404.9 195.8L407.9 193.4M77.4 223.2L87.0 217.2M95.3 223.3L105.2 217.1M113.3 223.1L123.1 217.3M131.1 223.1L141.2 217.2M149.8 222.4L158.5 217.8M167.8 222.0L176.4 218.0M186.4 221.7L193.8 218.3M205.7 221.1L210.5 218.9M241.6 221.0L246.5 218.9M258.6 221.2L265.5 218.5M277.6 221.0L282.5 218.9M296.1 220.8L300.1 219.1M312.3 221.7L319.9 218.2M331.0 222.4L337.5 218.1M349.8 221.8L354.7 218.7M368.5 221.8L372.2 219.0M387.5 221.2L389.3 219.7M499.4 222.3L498.6 220.1M77.4 249.1L87.0 243.1M95.3 249.2L105.1 243.1M113.7 249.0L122.7 243.3M131.8 248.8L140.6 243.4M150.4 248.1L157.9 244.0M168.9 248.1L175.5 244.1M187.2 247.2L193.0 244.5M279.6 249.1L282.3 244.7M296.8 248.8L300.5 244.5M313.8 248.2L318.9 244.4M332.1 247.8L336.5 244.7M350.6 247.3L353.9 245.1M497.2 248.8L498.0 245.5M78.3 274.6L86.2 269.5M96.2 274.7L104.3 269.4M114.7 274.2L121.8 269.8M133.2 274.0L139.3 270.1M151.8 273.4L156.6 270.6M171.0 272.3L173.2 271.3M264.8 274.2L264.4 271.9M280.9 276.0L282.4 270.1M298.7 275.2L300.2 270.8M315.9 273.1L317.2 271.8M426.2 274.1L426.2 272.2M444.2 274.1L444.2 272.2M462.2 274.1L462.2 272.2M480.2 274.6L480.2 271.7M497.9 274.5L498.1 271.7M82.0 299.4L83.5 297.6M100.0 299.8L101.7 297.4M282.7 301.7L282.2 296.4M300.6 300.9L300.2 297.1M444.5 300.2L444.3 297.8M480.2 301.2L480.2 296.8M304.9 326.0L299.3 321.9M322.0 325.8L317.9 322.4M445.4 325.9L444.6 323.7M463.2 326.5L462.4 323.2M481.5 326.1L480.5 323.4M499.8 326.0L498.6 323.4M89.3 351.4L83.1 347.9M107.3 351.4L101.1 347.9M125.3 351.4L119.1 347.9M143.3 351.4L137.1 347.9M161.3 351.4L155.1 347.9M179.3 351.4L173.1 347.9M197.3 351.4L191.1 347.9M215.0 351.2L209.5 348.1M232.5 351.0L227.9 348.3M249.2 350.8L246.9 349.0M304.5 350.8L300.0 348.4M323.7 351.3L316.9 347.8M342.2 351.4L334.4 347.6M359.7 351.4L352.8 347.7M376.8 351.3L371.6 348.1M395.2 351.3L389.2 348.0M412.8 350.8L407.8 348.3M467.4 352.4L460.7 347.4M485.7 352.3L478.5 347.3M503.7 351.9L496.7 347.5M91.2 378.3L81.3 372.8M109.2 378.3L99.3 372.8M127.2 378.3L117.3 372.8M145.2 378.3L135.3 372.8M163.2 378.3L153.3 372.8M181.2 378.3L171.3 372.8M199.2 378.3L189.3 372.8M217.2 378.3L207.3 372.8M235.2 378.3L225.3 372.8M253.2 378.3L243.3 372.8M271.2 378.3L261.3 372.8M288.3 377.9L280.1 373.2M304.1 376.6L300.3 374.5M376.6 378.2L371.3 373.6M395.2 377.7L389.1 373.7M412.8 376.7L407.8 374.2M430.5 376.9L425.9 374.2M448.8 377.2L443.6 374.0M467.2 376.7L461.4 374.0M487.1 378.2L477.4 372.8M505.1 378.2L495.4 372.8M90.7 404.0L81.7 398.9M108.7 404.0L99.7 398.9M126.7 404.0L117.7 398.9M144.7 404.0L135.7 398.9M162.7 404.0L153.7 398.9M180.7 404.0L171.7 398.9M198.7 404.0L189.7 398.9M216.7 404.0L207.7 398.9M234.7 404.0L225.7 398.9M252.7 404.0L243.7 398.9M270.7 404.0L261.7 398.9M288.7 404.0L279.7 398.9M304.5 402.8L299.9 400.1M321.7 402.3L318.8 400.6M339.7 402.3L336.8 400.6M357.7 402.3L354.8 400.6M376.7 403.5L371.5 399.8M395.3 403.5L389.1 399.6M413.0 403.0L407.5 399.9M430.5 402.8L425.9 400.1M449.0 403.0L443.5 399.9M467.5 403.1L461.0 399.7M486.8 403.9L477.7 398.9M504.8 403.9L495.7 398.9" stroke="#4d3232" stroke-width="2.2" fill="none"/><path d="M84.7 63.6L83.7 64.1L83.7 63.1ZM102.7 63.6L101.7 64.1L101.7 63.1ZM118.5 62.6L123.0 62.6L120.8 66.6ZM140.2 63.6L136.2 65.9L136.2 61.3ZM156.2 62.1L157.9 65.1L154.5 65.1ZM174.2 63.1L174.7 64.1L173.7 64.1ZM192.2 62.1L193.9 65.1L190.5 65.1ZM210.2 63.1L210.7 64.1L209.7 64.1ZM228.2 62.9L229.0 64.3L227.4 64.3ZM246.2 62.9L247.0 64.3L245.4 64.3ZM264.2 62.9L265.0 64.3L263.4 64.3ZM282.2 63.1L282.7 64.1L281.7 64.1ZM300.2 62.6L301.3 64.6L299.1 64.6ZM319.4 63.6L317.0 65.0L317.0 62.2ZM336.2 62.4L337.6 64.8L334.8 64.8ZM354.2 62.4L355.6 64.8L352.8 64.8ZM372.2 62.4L373.6 64.8L370.8 64.8ZM390.2 62.6L391.3 64.6L389.1 64.6ZM408.2 62.1L409.9 65.1L406.5 65.1ZM426.2 62.1L427.9 65.1L424.5 65.1ZM446.7 63.6L441.7 66.4L441.7 60.8ZM461.1 61.3L465.3 64.2L460.7 66.4ZM479.0 60.3L482.9 63.6L478.1 65.3ZM496.7 60.4L500.9 63.3L496.2 65.5ZM83.7 89.5L84.7 89.0L84.7 90.0ZM100.5 89.5L103.9 87.5L103.9 91.5ZM118.0 89.5L122.4 86.9L122.4 92.1ZM138.2 86.7L140.8 91.2L135.6 91.2ZM156.2 87.8L158.2 91.2L154.2 91.2ZM172.7 89.5L175.7 87.8L175.7 91.2ZM192.2 87.0L195.0 92.0L189.4 92.0ZM209.2 89.5L211.2 88.4L211.2 90.6ZM227.2 89.5L229.2 88.4L229.2 90.6ZM245.2 89.5L247.2 88.4L247.2 90.6ZM263.2 89.5L265.2 88.4L265.2 90.6ZM281.2 89.5L283.2 88.4L283.2 90.6ZM300.2 87.5L302.5 91.5L297.9 91.5ZM318.2 87.5L320.5 91.5L315.9 91.5ZM336.2 87.5L338.5 91.5L333.9 91.5ZM354.0 87.5L356.6 91.3L352.1 91.7ZM372.2 87.3L374.8 91.7L369.6 91.7ZM390.2 87.3L392.8 91.7L387.6 91.7ZM407.4 87.4L411.4 90.7L406.6 92.5ZM425.2 87.8L429.2 90.1L425.2 92.3ZM442.0 89.1L446.8 87.4L445.9 92.4ZM462.2 87.3L464.8 91.7L459.6 91.7ZM479.1 86.4L483.0 89.7L478.2 91.5ZM496.3 86.8L501.0 89.0L496.8 91.9ZM88.4 112.1L86.5 116.9L83.3 112.8ZM106.7 111.9L104.8 116.7L101.6 112.6ZM125.0 111.8L123.0 116.5L119.9 112.4ZM142.5 111.8L140.8 116.6L137.5 112.7ZM159.6 112.0L158.3 117.0L154.6 113.3ZM172.1 114.6L177.2 113.8L175.4 118.6ZM190.8 114.0L195.2 115.2L192.0 118.4ZM208.2 115.4L212.2 113.1L212.2 117.7ZM226.2 115.4L230.2 113.1L230.2 117.7ZM244.7 115.4L247.7 113.7L247.7 117.1ZM263.0 115.4L265.4 114.0L265.4 116.8ZM280.2 115.4L284.2 113.1L284.2 117.7ZM300.2 112.3L302.8 116.8L297.6 116.8ZM317.5 113.5L321.0 116.5L316.7 118.0ZM336.2 112.8L338.8 117.3L333.6 117.3ZM353.8 112.9L357.1 116.8L352.0 117.7ZM371.8 113.0L375.4 117.3L369.8 118.3ZM390.0 112.9L393.3 117.6L387.6 118.1ZM407.4 113.3L411.4 116.6L406.6 118.4ZM424.1 114.6L429.2 113.8L427.4 118.6ZM442.3 115.1L446.5 113.5L445.8 118.0ZM462.2 113.2L464.8 117.6L459.6 117.6ZM480.4 113.2L482.6 117.8L477.5 117.4ZM496.6 113.1L501.3 115.3L497.0 118.2ZM90.6 137.8L87.9 142.2L85.4 137.7ZM108.9 137.6L106.3 142.0L103.8 137.5ZM126.7 137.7L124.1 142.1L121.6 137.6ZM144.5 137.8L141.9 142.2L139.4 137.7ZM161.4 138.2L158.9 142.7L156.2 138.3ZM178.0 139.3L175.2 143.7L172.9 139.1ZM194.7 140.0L191.9 144.3L189.6 139.8ZM208.3 141.0L212.5 139.4L211.8 143.9ZM226.2 141.3L230.2 139.0L230.2 143.6ZM244.0 141.3L248.4 138.7L248.4 143.9ZM262.0 141.3L266.4 138.7L266.4 143.9ZM280.5 140.3L285.0 140.3L282.8 144.3ZM299.8 138.9L303.4 143.2L297.8 144.2ZM318.2 139.3L320.5 143.3L315.9 143.3ZM335.9 138.3L338.9 142.5L333.8 142.9ZM354.7 138.3L356.5 143.1L351.4 142.2ZM373.0 138.4L374.3 143.3L369.4 142.0ZM390.9 138.6L392.3 143.6L387.3 142.2ZM408.6 138.8L410.4 143.6L405.3 142.7ZM426.2 139.3L428.5 143.3L423.9 143.3ZM444.2 139.3L446.5 143.3L441.9 143.3ZM460.3 140.2L465.4 140.2L462.8 144.6ZM480.2 139.1L482.8 143.5L477.6 143.5ZM498.2 139.1L500.8 143.5L495.6 143.5ZM91.4 163.0L88.8 167.5L86.2 163.0ZM109.4 163.0L106.8 167.5L104.2 163.0ZM127.0 163.3L124.4 167.8L121.8 163.3ZM144.9 163.6L142.2 168.0L139.8 163.4ZM162.2 164.0L159.5 168.4L157.1 163.8ZM179.8 164.5L176.9 168.7L174.7 164.1ZM197.1 164.5L194.4 168.9L191.9 164.4ZM207.9 168.0L211.6 163.7L213.5 169.0ZM225.7 167.2L230.7 164.4L230.7 170.0ZM244.0 167.2L248.4 164.6L248.4 169.8ZM261.7 167.2L266.7 164.4L266.7 170.0ZM280.2 167.2L284.2 164.9L284.2 169.5ZM298.3 167.9L301.3 164.4L302.8 168.7ZM319.3 165.3L319.3 170.4L314.9 167.8ZM339.2 162.9L338.7 168.1L334.5 165.1ZM357.2 163.2L356.6 168.3L352.5 165.2ZM375.1 163.5L374.4 168.6L370.3 165.4ZM392.8 163.9L392.1 169.0L388.0 165.8ZM410.5 164.9L409.2 169.8L405.6 166.2ZM427.8 165.6L426.4 170.6L422.8 167.0ZM445.2 165.5L445.2 170.0L441.2 167.8ZM460.6 165.6L465.6 167.0L462.0 170.6ZM478.0 167.2L482.4 164.6L482.4 169.8ZM497.6 165.1L501.2 168.7L496.3 170.0ZM90.9 189.1L88.4 193.6L85.7 189.2ZM108.9 189.1L106.4 193.6L103.7 189.2ZM126.7 189.2L124.2 193.7L121.5 189.3ZM144.6 189.4L142.0 193.9L139.5 189.4ZM161.5 190.3L158.8 194.6L156.4 190.1ZM179.8 190.5L176.9 194.7L174.7 190.0ZM197.5 190.6L194.5 194.9L192.3 190.2ZM209.4 195.4L208.4 189.8L213.7 191.7ZM231.7 191.6L228.7 195.7L226.6 191.0ZM251.0 190.9L248.1 195.1L245.9 190.4ZM266.2 191.7L263.8 196.9L260.5 192.2ZM283.7 191.8L282.1 196.1L279.2 192.6ZM299.1 194.0L300.2 190.9L302.4 193.5ZM321.2 190.8L319.2 195.5L316.1 191.4ZM340.9 189.0L339.2 193.9L335.9 190.0ZM358.7 189.6L356.8 194.4L353.6 190.3ZM376.0 189.9L374.2 194.8L370.9 190.8ZM393.3 190.2L391.8 195.1L388.3 191.3ZM410.9 190.8L409.2 195.7L405.9 191.7ZM428.0 191.3L426.5 196.9L422.4 192.8ZM443.2 191.4L447.2 193.7L443.2 195.9ZM461.2 191.4L465.2 193.7L461.2 195.9ZM478.0 192.9L482.6 190.7L482.2 195.8ZM497.4 191.0L501.4 194.3L496.6 196.1ZM90.4 215.1L88.0 219.7L85.3 215.3ZM108.5 215.1L106.1 219.6L103.4 215.2ZM126.5 215.2L124.0 219.7L121.3 215.3ZM144.7 215.3L142.1 219.7L139.5 215.3ZM162.0 215.9L159.3 220.3L156.9 215.7ZM180.0 216.3L177.1 220.5L174.9 215.8ZM197.4 216.6L194.4 220.8L192.2 216.1ZM214.1 217.2L211.2 221.4L209.0 216.7ZM230.4 218.0L227.2 222.6L224.8 217.5ZM250.1 217.3L247.1 221.4L245.0 216.7ZM269.1 217.0L266.0 221.1L264.0 216.3ZM286.1 217.3L283.1 221.4L281.0 216.7ZM303.7 217.5L300.7 221.6L298.6 216.9ZM323.5 216.5L320.5 220.8L318.3 216.1ZM340.9 216.0L338.5 220.6L335.7 216.2ZM358.0 216.6L355.6 221.2L352.9 216.8ZM375.3 216.7L373.3 221.4L370.2 217.3ZM392.3 217.2L390.6 222.0L387.3 218.1ZM409.8 217.1L408.8 222.7L404.4 219.1ZM424.3 217.9L429.4 217.9L426.8 222.3ZM442.3 218.7L446.5 217.1L445.8 221.6ZM460.0 218.6L464.8 216.9L463.9 221.9ZM478.3 218.7L482.5 217.1L481.8 221.6ZM497.2 216.4L501.2 219.7L496.3 221.4ZM90.4 241.0L88.0 245.6L85.3 241.2ZM108.5 241.0L106.1 245.5L103.3 241.2ZM126.1 241.2L123.7 245.8L121.0 241.4ZM144.0 241.4L141.5 245.9L138.9 241.5ZM161.4 242.0L158.7 246.4L156.2 241.9ZM178.9 242.1L176.4 246.6L173.7 242.2ZM196.6 242.9L193.6 247.1L191.4 242.4ZM210.6 247.1L207.3 243.2L212.3 242.3ZM228.2 246.4L226.5 243.4L229.9 243.4ZM245.0 244.9L247.4 243.5L247.4 246.3ZM263.8 242.5L267.4 246.8L261.8 247.8ZM284.4 241.3L284.3 246.5L279.9 243.7ZM303.1 241.5L302.1 246.6L298.3 243.2ZM322.0 242.0L320.0 246.7L316.9 242.6ZM339.7 242.4L337.6 247.1L334.6 242.9ZM357.3 242.9L354.9 247.5L352.1 243.2ZM370.3 243.3L375.9 244.3L372.3 248.7ZM390.2 243.9L391.3 245.9L389.1 245.9ZM407.6 242.8L411.2 246.4L406.3 247.7ZM425.9 243.0L428.8 246.5L424.3 247.2ZM442.3 243.8L447.4 243.8L444.8 248.2ZM462.2 242.9L464.5 246.9L459.9 246.9ZM480.2 242.4L483.0 247.4L477.4 247.4ZM499.1 241.7L500.4 246.7L495.4 245.3ZM89.5 267.4L87.2 272.0L84.3 267.6ZM107.6 267.3L105.3 271.9L102.5 267.6ZM125.1 267.7L122.7 272.3L120.0 267.9ZM142.7 268.0L140.2 272.6L137.5 268.2ZM160.0 268.6L157.4 273.1L154.9 268.6ZM176.7 269.6L173.8 273.8L171.6 269.2ZM194.2 270.8L190.2 273.1L190.2 268.5ZM210.2 272.0L208.8 269.6L211.6 269.6ZM228.2 269.3L229.9 272.3L226.5 272.3ZM246.2 269.3L247.9 272.3L244.5 272.3ZM263.7 268.0L267.0 272.0L262.0 272.9ZM283.3 266.3L284.7 271.2L279.7 270.0ZM301.5 267.0L302.5 272.1L297.6 270.4ZM320.0 269.0L318.7 274.0L315.0 270.3ZM336.2 273.0L333.6 268.6L338.8 268.6ZM354.2 269.8L355.3 271.8L353.1 271.8ZM372.2 269.8L373.3 271.8L371.1 271.8ZM390.2 269.3L391.9 272.3L388.5 272.3ZM408.2 268.3L411.0 273.3L405.4 273.3ZM426.2 268.2L428.8 272.7L423.6 272.7ZM444.2 268.2L446.8 272.7L441.6 272.7ZM462.2 268.2L464.8 272.7L459.6 272.7ZM480.2 267.8L482.8 272.2L477.6 272.2ZM498.5 267.8L500.6 272.4L495.5 272.0ZM86.0 294.6L85.1 299.6L81.2 296.3ZM103.9 294.2L103.5 299.3L99.3 296.4ZM118.1 295.5L123.8 295.5L120.9 300.4ZM135.8 296.1L141.3 294.6L139.9 300.1ZM154.0 296.3L158.8 294.6L157.9 299.6ZM173.3 297.8L173.8 294.5L176.4 296.7ZM193.4 296.7L191.0 298.1L191.0 295.3ZM210.2 295.7L211.3 297.7L209.1 297.7ZM228.2 295.7L229.3 297.7L227.1 297.7ZM246.2 295.7L247.3 297.7L245.1 297.7ZM264.2 294.7L266.5 298.7L261.9 298.7ZM281.8 292.4L284.8 296.6L279.7 297.1ZM299.9 293.2L302.8 297.4L297.7 297.8ZM318.2 295.2L319.9 298.2L316.5 298.2ZM336.2 296.0L337.0 297.4L335.4 297.4ZM354.2 296.0L355.0 297.4L353.4 297.4ZM372.2 296.0L373.0 297.4L371.4 297.4ZM390.2 296.0L391.0 297.4L389.4 297.4ZM407.8 294.5L411.1 298.4L406.1 299.3ZM426.1 295.2L428.0 298.0L424.6 298.3ZM444.0 293.9L446.9 298.1L441.8 298.6ZM461.8 294.3L465.4 298.6L459.8 299.6ZM480.2 292.9L482.8 297.3L477.6 297.3ZM497.5 294.8L501.0 297.8L496.7 299.3ZM86.2 322.6L82.2 324.9L82.2 320.3ZM104.7 322.6L99.7 325.4L99.7 319.8ZM122.6 323.0L117.3 325.0L118.3 319.4ZM140.3 323.8L134.6 323.8L137.5 318.9ZM158.1 324.2L152.5 323.2L156.1 318.8ZM175.8 324.2L170.8 322.8L174.4 319.2ZM192.8 324.2L189.7 321.7L193.5 320.3ZM211.5 323.3L208.1 323.3L209.8 320.4ZM228.2 323.6L227.1 321.6L229.3 321.6ZM246.9 322.6L245.5 323.4L245.5 321.8ZM266.2 322.6L262.2 324.9L262.2 320.3ZM282.2 320.6L284.5 324.6L279.9 324.6ZM296.1 319.6L301.2 320.1L298.2 324.3ZM314.9 319.8L320.0 320.7L316.7 324.7ZM336.2 324.8L333.6 320.4L338.8 320.4ZM355.7 323.9L351.2 323.1L354.1 319.6ZM373.2 323.6L370.0 322.8L372.4 320.4ZM389.8 320.2L393.4 324.5L387.8 325.5ZM408.0 321.6L409.5 323.4L407.3 323.8ZM425.9 321.1L428.1 323.8L424.8 324.3ZM443.2 320.0L447.2 323.3L442.3 325.0ZM461.3 319.4L465.0 323.0L460.0 324.4ZM479.2 319.7L483.1 323.0L478.3 324.8ZM496.9 319.8L501.1 322.8L496.5 325.0ZM79.7 345.9L84.8 345.9L82.3 350.4ZM97.7 345.9L102.8 345.9L100.3 350.4ZM115.7 345.9L120.8 345.9L118.3 350.4ZM133.7 345.9L138.8 345.9L136.3 350.4ZM151.7 345.9L156.8 345.9L154.3 350.4ZM169.7 345.9L174.8 345.9L172.3 350.4ZM187.7 345.9L192.8 345.9L190.3 350.4ZM206.0 346.1L211.2 346.1L208.6 350.6ZM224.5 346.3L229.6 346.3L227.0 350.8ZM243.7 346.6L248.8 347.3L245.7 351.4ZM263.1 347.6L266.4 348.1L264.2 350.7ZM280.8 347.1L285.2 348.3L282.0 351.5ZM296.5 346.6L301.7 346.4L299.3 350.9ZM313.3 346.0L318.5 345.8L316.1 350.3ZM330.9 345.9L336.0 345.5L333.7 350.2ZM349.3 345.9L354.4 345.7L352.0 350.3ZM368.2 346.1L373.4 346.2L370.7 350.6ZM385.8 346.1L390.9 346.0L388.4 350.5ZM404.2 346.5L409.4 346.2L407.0 350.8ZM424.1 347.3L429.8 347.3L426.9 352.2ZM442.7 347.2L447.2 348.0L444.3 351.5ZM457.6 345.0L462.7 345.6L459.6 349.7ZM475.3 345.1L480.4 345.5L477.5 349.7ZM493.3 345.5L498.5 345.6L495.7 350.0ZM77.9 370.9L83.0 370.8L80.5 375.3ZM95.9 370.9L101.0 370.8L98.5 375.3ZM113.9 370.9L119.0 370.8L116.5 375.3ZM131.9 370.9L137.0 370.8L134.5 375.3ZM149.9 370.9L155.0 370.8L152.5 375.3ZM167.9 370.9L173.0 370.8L170.5 375.3ZM185.9 370.9L191.0 370.8L188.5 375.3ZM203.9 370.9L209.0 370.8L206.5 375.3ZM221.9 370.9L227.0 370.8L224.5 375.3ZM239.9 370.9L245.0 370.8L242.5 375.3ZM257.9 370.9L263.0 370.8L260.5 375.3ZM276.7 371.2L281.8 371.2L279.2 375.7ZM296.9 372.5L302.1 372.5L299.5 377.0ZM316.1 373.2L321.8 373.2L318.9 378.1ZM338.2 374.4L334.2 376.7L334.2 372.1ZM352.5 373.4L357.0 373.4L354.8 377.4ZM368.3 371.0L373.4 372.0L370.0 375.9ZM385.8 371.5L390.9 371.8L388.1 376.1ZM404.2 372.4L409.4 372.1L407.0 376.7ZM422.5 372.2L427.6 372.2L425.0 376.7ZM440.2 372.0L445.4 372.1L442.7 376.5ZM457.8 372.4L463.0 371.9L460.8 376.6ZM473.9 370.9L479.0 370.8L476.5 375.3ZM491.9 370.9L497.0 370.8L494.5 375.3ZM78.3 396.9L83.5 396.9L80.9 401.4ZM96.3 396.9L101.5 396.9L98.9 401.4ZM114.3 396.9L119.5 396.9L116.9 401.4ZM132.3 396.9L137.5 396.9L134.9 401.4ZM150.3 396.9L155.5 396.9L152.9 401.4ZM168.3 396.9L173.5 396.9L170.9 401.4ZM186.3 396.9L191.5 396.9L188.9 401.4ZM204.3 396.9L209.5 396.9L206.9 401.4ZM222.3 396.9L227.5 396.9L224.9 401.4ZM240.3 396.9L245.5 396.9L242.9 401.4ZM258.3 396.9L263.5 396.9L260.9 401.4ZM276.3 396.9L281.5 396.9L278.9 401.4ZM296.5 398.1L301.6 398.1L299.0 402.6ZM315.3 398.6L320.5 398.6L317.9 403.1ZM333.3 398.6L338.5 398.6L335.9 403.1ZM351.3 398.6L356.5 398.6L353.9 403.1ZM368.3 397.5L373.4 398.0L370.4 402.2ZM385.7 397.5L390.8 397.7L388.1 402.0ZM404.0 397.9L409.2 397.9L406.6 402.4ZM422.5 398.1L427.6 398.1L425.0 402.6ZM440.0 397.9L445.2 397.9L442.6 402.4ZM457.5 397.8L462.7 397.6L460.2 402.2ZM474.3 397.0L479.4 396.9L476.9 401.4ZM492.3 397.0L497.4 396.9L494.9 401.4Z" fill="#c8705f" fill-opacity="0.93" stroke="#3a2525" stroke-width="0.72" stroke-linejoin="miter"/>
</g>
<rect x="83.0" y="37.0" width="434.5" height="363.2" fill="none" stroke="#555" stroke-width="1"/>
<path d="M83.0 108.7h14.5M83.0 304.5h14.5" stroke="#000" stroke-width="3.3"/>
<path d="M230 400.2v-9" stroke="#000" stroke-width="3.8"/>
<text x="79.5" y="115.2" text-anchor="end" font-size="17.5" fill="#231f20">20°N</text>
<text x="82.2" y="311.0" text-anchor="end" font-size="17.5" fill="#231f20">0°</text>
<text x="235" y="419.7" text-anchor="middle" font-size="17.5" fill="#231f20">100°E</text>
<circle cx="306.7" cy="55.3" r="13.9" fill="#faa42c"/><text x="306.7" y="60.5" text-anchor="middle" font-size="14" fill="#231f20">D</text>
<circle cx="252.3" cy="104.3" r="13.9" fill="#faa42c"/><text x="252.3" y="109.5" text-anchor="middle" font-size="14" fill="#231f20">TM</text>
<circle cx="328" cy="99" r="13.9" fill="#faa42c"/><text x="328" y="104.2" text-anchor="middle" font-size="14" fill="#231f20">LH</text>
<circle cx="213.3" cy="225" r="13.9" fill="#faa42c"/><text x="213.3" y="230.2" text-anchor="middle" font-size="14" fill="#231f20">K</text>
<circle cx="236" cy="308" r="13.9" fill="#faa42c"/><text x="236" y="313.2" text-anchor="middle" font-size="14" fill="#231f20">T</text>
<circle cx="363.7" cy="266" r="13.9" fill="#faa42c"/><text x="363.7" y="271.2" text-anchor="middle" font-size="14" fill="#231f20">BA</text>
<circle cx="424.5" cy="385" r="13.9" fill="#faa42c"/><text x="424.5" y="390.2" text-anchor="middle" font-size="14" fill="#231f20">LL</text>
<polygon points="293.4,120.3 300.8,129.5 312.4,131.7 305.9,141.6 307.4,153.4 296.0,150.3 285.3,155.3 284.7,143.5 276.6,134.8 287.7,130.6" fill="#f05a28" stroke="#f05a28" stroke-width="3.8" stroke-linejoin="round"/><text x="295" y="144.29999999999998" text-anchor="middle" font-size="14.4" fill="#231f20">TD</text>
<text x="438.5" y="420.8" font-size="17.3" fill="#231f20">5 ms<tspan font-size="10.5" dy="-5.8">-1</tspan></text><path d="M494.0 417.4h6.8v-2l5.7 2.8l-5.7 2.8v-2h-6.8z" fill="#c4574a"/>
<clipPath id="cb"><rect x="690.5" y="33.9" width="436.5" height="365.3"/></clipPath>
<g clip-path="url(#cb)">
<rect x="688.5" y="31.9" width="440.5" height="369.3" fill="#90c4de"/>
<polygon points="689.2,33.2 793.3,33.2 774.6,42.6 728.8,37.4 719.4,41.5 722.5,50.9 731.9,67.6 712.1,88.4 705.8,99.9 703.8,113.4 689.2,114.5" fill="#d4e6f4" />
<polygon points="805.8,33.2 811.0,42.6 807.9,67.6 795.4,90.5 799.6,118.6 810.0,121.8 823.5,130.1 839.2,142.6 848.5,153.0 870.4,152.0 877.7,144.7 873.5,125.9 870.4,117.6 897.5,95.7 898.3,97.8 910.8,98.8 952.5,102.0 983.8,106.1 1018.1,110.3 1027.5,90.5 1033.8,59.2 1036.9,40.5 1042.1,33.2" fill="#d4e6f4" />
<polygon points="1046.2,33.2 1054.6,46.8 1062.9,59.2 1081.7,68.6 1106.7,78.0 1128.5,84.7 1128.5,33.2" fill="#d4e6f4" />
<polygon points="905.0,140.0 917.0,136.3 923.3,131.0 933.8,143.6 926.5,159.2 921.2,177.0 909.8,155.0" fill="#3f90c6" />
<polygon points="1060.0,166.5 1063.0,162.4 1067.0,163.4 1071.0,167.6 1065.0,171.8" fill="#3f90c6" />
<polygon points="813.0,265.4 822.5,259.6 836.0,265.4 832.0,288.3 833.0,321.7 834.0,338.3 824.6,342.5 800.6,339.4 776.7,340.4 753.8,338.0 774.6,333.0 800.6,332.0 812.0,313.3" fill="#3f90c6" />
<polygon points="934.8,289.4 958.8,272.7 980.6,276.9 980.6,288.3 970.2,308.0 945.2,319.6 938.0,313.3" fill="#3f90c6" />
<polygon points="764.0,401.0 785.0,391.5 810.0,384.0 847.5,380.0 870.4,375.8 878.8,378.0 891.2,386.2 899.6,390.4 922.5,391.0 932.5,388.0 931.7,361.2 959.0,353.0 976.5,343.5 996.2,332.0 1015.0,323.8 1023.3,305.0 1018.0,285.2 1023.3,273.8 1035.8,250.8 1046.2,243.5 1067.0,244.6 1090.0,242.5 1108.8,246.7 1130.0,254.0 1130.0,401.0" fill="#d4e6f4" />
<use href="#coast" transform="translate(607.118,-3.314) scale(1.00460,1.00578)"/>
<path d="M1055.6 56.0L1053.1 60.7M1074.6 56.3L1071.0 60.9M1093.1 55.4L1088.5 61.7M1111.7 55.8L1106.5 61.5M985.1 83.2L980.5 86.8M1004.6 81.4L996.9 88.3M1020.3 80.5L1016.2 88.3M1038.5 84.1L1035.8 86.1M1057.5 80.5L1051.8 88.6M1074.6 80.9L1070.5 87.9M1093.3 81.4L1088.4 87.8M1112.1 82.3L1106.4 87.4M911.9 110.2L909.2 112.1M929.5 110.4L927.7 111.8M949.9 108.8L943.5 113.4M968.0 107.9L961.3 113.9M986.5 107.9L979.1 114.1M1005.0 107.4L996.6 114.5M1023.1 107.8L1014.9 114.2M1041.7 109.5L1033.0 113.5M1057.9 109.2L1052.5 113.0M1075.1 107.0L1070.3 114.1M1093.1 107.4L1088.5 113.8M1111.2 108.4L1107.0 113.1M930.4 134.8L926.4 138.9M949.4 133.9L943.5 139.8M967.2 133.6L961.7 139.9M985.5 133.6L979.6 140.0M1003.7 134.2L997.9 139.6M1020.4 134.8L1017.0 138.7M1074.9 134.9L1071.1 138.7M1092.1 135.5L1089.9 138.0M1109.9 135.9L1108.3 137.6M947.6 160.4L944.6 164.8M965.4 160.6L962.9 164.5M984.0 161.3L981.2 164.3M1001.4 161.9L999.8 163.7M945.9 187.5L945.3 189.2M925.8 212.9L926.5 215.7M706.4 268.6L708.5 268.6M724.6 268.6L726.5 268.6M706.2 294.9L708.7 294.7M724.6 294.6L726.5 294.6M742.7 294.6L744.5 294.6M760.8 294.6L762.6 294.6M947.6 348.3L946.0 347.3M965.7 348.3L964.1 347.3M1074.4 347.8L1072.7 347.1M1092.4 348.0L1090.7 347.2M1110.5 348.0L1108.8 347.2M697.5 374.9L690.2 372.1M715.8 375.0L708.1 372.0M734.1 374.9L726.0 372.0M752.4 375.1L743.8 371.9M770.2 375.2L762.1 371.9M788.0 375.3L780.4 371.9M806.3 375.6L798.2 371.7M824.1 375.9L816.5 371.7M842.0 375.9L834.7 371.7M859.5 375.8L853.3 371.9M877.1 375.9L871.7 372.1M894.3 376.3L890.2 372.3M982.5 375.8L981.5 373.7M1092.3 374.3L1090.7 373.4M1110.9 374.2L1108.4 373.0M697.0 401.5L690.5 398.0M715.1 401.5L708.6 398.0M733.2 401.5L726.7 398.0M751.2 401.5L744.7 398.0M769.3 401.5L762.8 398.0M787.4 401.5L780.9 398.0M805.5 401.5L799.0 398.0M823.6 401.5L817.1 398.0M841.6 401.5L835.1 398.0M859.7 401.5L853.2 398.0M877.8 401.5L871.3 398.0M895.9 401.5L889.4 398.0" stroke="#4d3232" stroke-width="2.2" fill="none"/><path d="M692.2 60.4L691.2 61.0L691.2 59.9ZM710.3 60.4L709.3 61.0L709.3 59.9ZM728.3 60.4L727.4 61.0L727.4 59.9ZM746.4 60.4L745.5 61.0L745.5 59.9ZM764.5 60.4L763.5 61.0L763.5 59.9ZM782.6 60.4L781.6 61.0L781.6 59.9ZM800.7 60.4L799.7 61.0L799.7 59.9ZM818.7 60.4L817.8 61.0L817.8 59.9ZM836.8 60.4L835.9 61.0L835.9 59.9ZM855.6 60.4L853.2 61.8L853.2 59.0ZM873.7 60.4L871.3 61.8L871.3 59.0ZM891.6 60.4L889.6 61.5L889.6 59.3ZM910.1 60.4L907.2 62.1L907.2 58.7ZM928.7 60.4L924.8 62.7L924.8 58.1ZM947.0 60.8L942.2 62.6L943.1 57.5ZM965.1 60.8L960.3 62.6L961.2 57.5ZM983.1 61.2L978.0 62.1L979.8 57.3ZM1001.0 60.8L996.7 62.3L997.5 57.8ZM1015.5 61.6L1017.5 57.4L1020.1 61.1ZM1033.8 62.1L1034.7 57.1L1038.6 60.4ZM1051.3 64.3L1051.1 59.1L1055.7 61.5ZM1068.6 64.0L1069.3 58.9L1073.3 62.1ZM1086.2 64.9L1086.7 59.8L1090.9 62.8ZM1103.9 64.5L1105.0 59.4L1108.8 62.9ZM691.1 86.4L692.3 85.8L692.3 87.1ZM709.2 86.4L710.4 85.8L710.4 87.1ZM727.3 86.4L728.4 85.8L728.4 87.1ZM745.4 86.4L746.5 85.8L746.5 87.1ZM763.4 86.4L764.6 85.8L764.6 87.1ZM781.5 86.4L782.7 85.8L782.7 87.1ZM799.6 86.4L800.8 85.8L800.8 87.1ZM817.7 86.4L818.8 85.8L818.8 87.1ZM835.8 86.4L836.9 85.8L836.9 87.1ZM852.9 86.4L855.9 84.7L855.9 88.1ZM870.8 86.4L874.2 84.5L874.2 88.4ZM890.6 85.0L892.3 87.9L888.9 87.9ZM908.7 84.5L910.9 88.4L906.4 88.4ZM926.0 85.2L928.9 86.9L926.0 88.6ZM943.3 86.4L946.3 84.7L946.3 88.1ZM961.0 87.1L964.0 83.6L965.5 87.9ZM977.4 89.2L979.3 84.5L982.5 88.5ZM994.0 91.0L995.6 86.1L999.0 89.9ZM1014.3 91.8L1014.1 86.6L1018.7 89.1ZM1032.5 88.3L1034.7 83.7L1037.6 87.9ZM1049.5 91.8L1050.0 86.7L1054.2 89.6ZM1068.6 91.3L1068.5 86.2L1073.0 88.8ZM1086.1 91.0L1086.7 85.8L1090.8 88.9ZM1103.5 90.1L1105.1 85.2L1108.5 89.0ZM691.7 111.5L692.8 113.4L690.6 113.4ZM709.8 111.2L711.2 113.7L708.4 113.7ZM727.9 111.7L728.7 113.2L727.0 113.2ZM745.9 111.7L746.8 113.2L745.1 113.2ZM764.0 111.0L765.7 113.9L762.3 113.9ZM782.1 111.5L783.2 113.4L781.0 113.4ZM800.2 111.7L801.0 113.2L799.3 113.2ZM818.3 111.7L819.1 113.2L817.4 113.2ZM836.3 112.0L836.9 112.9L835.8 112.9ZM854.4 111.5L855.5 113.4L853.3 113.4ZM872.5 110.7L874.5 114.2L870.5 114.2ZM889.5 110.5L893.9 113.1L889.5 115.7ZM906.0 114.4L908.1 109.7L911.1 113.9ZM924.5 114.1L926.5 109.4L929.6 113.5ZM940.3 115.7L942.4 111.0L945.4 115.2ZM958.4 116.5L960.0 111.7L963.4 115.5ZM976.0 116.6L977.8 111.8L981.1 115.7ZM993.6 117.0L995.4 112.2L998.7 116.1ZM1011.8 116.6L1013.7 111.9L1016.9 115.9ZM1029.4 115.2L1032.4 111.0L1034.5 115.6ZM1049.3 115.3L1051.5 110.6L1054.4 114.8ZM1068.1 117.4L1068.4 112.2L1072.7 115.1ZM1086.2 117.0L1086.7 111.8L1090.9 114.9ZM1104.3 116.0L1105.4 111.0L1109.2 114.4ZM691.7 140.2L689.7 136.8L693.7 136.8ZM709.8 140.2L707.8 136.8L711.8 136.8ZM727.9 140.2L725.9 136.8L729.8 136.8ZM745.9 139.7L744.5 137.3L747.3 137.3ZM764.0 139.2L763.2 137.8L764.9 137.8ZM782.6 138.5L781.6 139.0L781.6 137.9ZM801.2 138.5L799.2 139.6L799.2 137.4ZM818.3 139.5L817.1 137.5L819.4 137.5ZM837.1 138.5L835.6 139.3L835.6 137.6ZM853.4 136.8L857.4 139.1L853.4 141.3ZM872.5 136.3L875.1 140.7L869.9 140.7ZM889.1 138.5L892.1 136.8L892.1 140.2ZM906.8 139.2L909.7 135.7L911.3 139.9ZM923.6 141.7L924.9 136.7L928.5 140.3ZM940.7 142.6L942.0 137.6L945.7 141.3ZM959.0 142.8L960.1 137.8L963.9 141.2ZM976.9 142.9L978.0 137.9L981.8 141.4ZM995.0 142.3L996.5 137.4L1000.0 141.1ZM1014.4 141.6L1015.4 136.6L1019.2 140.0ZM1034.2 136.8L1038.2 139.1L1034.2 141.3ZM1051.4 139.2L1054.4 135.7L1055.9 139.9ZM1068.4 141.6L1069.6 136.6L1073.3 140.2ZM1087.3 140.9L1088.3 135.9L1092.1 139.3ZM1105.6 140.5L1106.8 135.5L1110.5 139.0ZM691.7 166.5L689.4 162.5L694.0 162.5ZM709.8 166.7L707.2 162.3L712.3 162.3ZM727.9 166.7L725.3 162.3L730.4 162.3ZM745.9 166.5L743.7 162.5L748.2 162.5ZM764.0 166.2L762.0 162.8L766.0 162.8ZM782.1 165.7L780.7 163.3L783.5 163.3ZM800.9 164.5L799.5 165.3L799.5 163.7ZM818.7 164.5L817.8 165.0L817.8 164.0ZM837.8 163.6L835.8 167.1L833.9 163.6ZM855.1 162.6L855.9 167.1L851.6 165.6ZM874.4 163.8L871.4 167.3L869.9 163.0ZM890.6 163.0L892.3 166.0L888.9 166.0ZM910.6 164.5L906.7 166.8L906.7 162.2ZM926.0 166.6L925.1 161.5L929.9 163.3ZM942.4 168.1L942.8 162.9L947.0 165.8ZM960.8 167.8L961.0 162.6L965.4 165.4ZM978.5 167.2L979.6 162.2L983.4 165.7ZM997.2 166.5L998.3 161.5L1002.1 165.0ZM1019.4 164.5L1014.9 167.1L1014.9 161.9ZM1036.7 164.5L1033.7 166.2L1033.7 162.8ZM1054.8 164.5L1051.8 166.2L1051.8 162.8ZM1073.4 164.5L1069.4 166.8L1069.4 162.2ZM1091.7 164.5L1087.2 167.1L1087.2 161.9ZM1109.8 164.5L1105.3 167.1L1105.3 161.9ZM693.3 188.9L691.9 193.9L688.3 190.3ZM712.3 190.5L707.3 193.4L707.3 187.7ZM727.9 193.0L725.0 188.0L730.7 188.0ZM745.9 193.0L743.1 188.0L748.8 188.0ZM764.0 192.5L761.7 188.5L766.3 188.5ZM779.9 190.5L784.3 188.0L784.3 193.1ZM798.2 190.5L802.2 188.2L802.2 192.8ZM816.8 190.5L819.7 188.8L819.7 192.2ZM838.6 190.5L834.1 193.1L834.1 188.0ZM855.8 189.1L854.6 193.5L851.4 190.3ZM872.5 189.0L874.2 192.0L870.8 192.0ZM890.6 189.3L892.0 191.7L889.2 191.7ZM909.9 190.5L907.4 191.9L907.4 189.1ZM926.7 192.7L924.2 188.3L929.3 188.3ZM943.9 192.9L943.1 187.9L947.9 189.6ZM964.1 192.7L959.2 189.8L964.1 187.0ZM983.2 190.5L978.8 193.1L978.8 188.0ZM1000.5 190.5L997.6 192.2L997.6 188.8ZM1018.1 190.5L1016.2 191.6L1016.2 189.4ZM1036.7 190.5L1033.7 192.2L1033.7 188.8ZM1054.3 190.5L1052.3 191.6L1052.3 189.4ZM1072.4 190.5L1070.4 191.6L1070.4 189.4ZM1090.7 190.5L1088.2 191.9L1088.2 189.1ZM1108.5 190.5L1106.6 191.6L1106.6 189.4ZM691.7 214.6L694.0 218.5L689.4 218.5ZM709.8 214.3L712.3 218.8L707.2 218.8ZM729.8 216.5L725.9 218.8L725.9 214.3ZM747.9 216.5L744.0 218.8L744.0 214.3ZM764.0 218.8L761.5 214.3L766.6 214.3ZM779.9 216.5L784.3 214.0L784.3 219.1ZM798.0 216.5L802.4 214.0L802.4 219.1ZM816.8 216.5L819.7 214.8L819.7 218.2ZM836.3 215.1L838.0 218.0L834.6 218.0ZM854.4 214.3L857.0 218.8L851.9 218.8ZM872.1 214.3L875.4 218.3L870.4 219.2ZM889.5 214.6L893.9 217.2L889.5 219.7ZM910.1 217.9L905.7 216.7L908.9 213.5ZM927.5 219.5L923.9 215.9L928.9 214.5ZM947.0 217.8L941.3 217.8L944.1 212.8ZM962.9 218.0L961.2 215.1L964.6 215.1ZM981.7 216.5L980.3 217.4L980.3 215.7ZM999.8 216.5L998.3 217.4L998.3 215.7ZM1017.9 216.5L1016.4 217.4L1016.4 215.7ZM1035.9 216.5L1034.5 217.4L1034.5 215.7ZM1054.0 216.5L1052.6 217.4L1052.6 215.7ZM1072.1 216.5L1070.7 217.4L1070.7 215.7ZM1090.2 216.5L1088.7 217.4L1088.7 215.7ZM1108.3 216.5L1106.8 217.4L1106.8 215.7ZM691.9 244.5L689.3 240.8L693.8 240.4ZM710.0 244.8L707.0 240.6L712.1 240.1ZM728.1 244.8L725.1 240.6L730.2 240.1ZM746.1 244.0L744.1 241.2L747.5 240.9ZM763.0 242.6L765.0 241.4L765.0 243.7ZM782.1 241.3L783.5 243.8L780.7 243.8ZM801.2 242.6L799.2 243.7L799.2 241.4ZM819.2 242.6L817.3 243.7L817.3 241.4ZM835.9 242.6L836.8 242.0L836.8 243.1ZM854.9 242.6L853.9 243.1L853.9 242.0ZM872.2 240.6L875.1 244.1L870.6 244.9ZM890.6 240.3L893.1 244.8L888.0 244.8ZM907.7 240.8L911.6 243.1L907.7 245.4ZM926.7 244.3L924.8 240.8L928.7 240.8ZM943.1 242.6L946.5 240.6L946.5 244.5ZM961.3 243.1L963.8 240.1L965.2 243.8ZM978.9 241.8L983.9 240.9L982.2 245.7ZM998.1 242.6L1000.0 241.4L1000.0 243.7ZM1017.9 242.6L1016.4 243.4L1016.4 241.7ZM1034.2 242.6L1036.2 241.4L1036.2 243.7ZM1051.6 242.6L1055.0 240.6L1055.0 244.5ZM1070.4 242.6L1072.4 241.4L1072.4 243.7ZM1088.5 242.6L1090.4 241.4L1090.4 243.7ZM1105.8 241.6L1110.4 241.6L1108.1 245.5ZM693.9 269.0L689.1 270.7L690.0 265.7ZM712.5 268.6L708.0 271.2L708.0 266.0ZM730.4 268.6L726.0 271.2L726.0 266.0ZM748.4 269.0L743.0 271.0L744.0 265.3ZM766.5 269.0L761.1 271.0L762.1 265.3ZM784.0 268.9L779.8 270.5L780.5 266.0ZM801.4 268.6L799.0 270.0L799.0 267.2ZM819.0 268.6L817.5 269.4L817.5 267.7ZM836.8 268.6L835.9 269.1L835.9 268.0ZM854.9 268.6L853.9 269.1L853.9 268.0ZM873.0 268.6L872.0 269.1L872.0 268.0ZM891.1 268.6L890.1 269.1L890.1 268.0ZM909.1 268.6L908.2 269.1L908.2 268.0ZM925.3 268.6L928.2 266.9L928.2 270.3ZM943.1 268.6L946.5 266.6L946.5 270.6ZM961.9 268.6L963.9 267.5L963.9 269.7ZM980.0 268.6L982.0 267.5L982.0 269.7ZM998.3 268.6L999.8 267.7L999.8 269.4ZM1016.4 268.6L1017.9 267.7L1017.9 269.4ZM1033.2 268.6L1037.2 266.3L1037.2 270.9ZM1051.4 268.2L1055.6 266.7L1054.9 271.2ZM1069.7 268.3L1073.4 266.9L1072.7 270.8ZM1088.0 267.7L1091.9 267.7L1090.0 271.2ZM1105.3 268.4L1110.0 266.2L1109.5 271.3ZM693.7 294.6L689.7 296.9L689.7 292.3ZM712.7 294.3L708.5 297.3L708.0 292.2ZM730.4 294.6L726.0 297.2L726.0 292.0ZM748.5 294.6L744.0 297.2L744.0 292.0ZM766.6 294.6L762.1 297.2L762.1 292.0ZM784.6 294.6L779.6 297.4L779.6 291.8ZM802.2 294.6L798.2 296.9L798.2 292.3ZM819.2 294.6L817.3 295.7L817.3 293.5ZM836.8 294.6L835.9 295.1L835.9 294.1ZM855.4 294.6L853.4 295.7L853.4 293.5ZM873.5 294.6L871.5 295.7L871.5 293.5ZM889.4 294.6L891.8 293.2L891.8 296.0ZM907.2 294.6L910.1 292.9L910.1 296.3ZM927.5 294.6L926.0 295.4L926.0 293.8ZM945.5 294.6L944.1 295.4L944.1 293.8ZM963.6 294.6L962.2 295.4L962.2 293.8ZM981.7 294.6L980.3 295.4L980.3 293.8ZM999.8 294.6L998.3 295.4L998.3 293.8ZM1015.7 294.6L1018.6 292.9L1018.6 296.3ZM1034.2 294.6L1036.2 293.5L1036.2 295.7ZM1051.8 293.7L1055.8 293.7L1053.8 297.2ZM1070.2 293.4L1074.0 294.4L1071.2 297.2ZM1087.9 293.0L1092.8 294.4L1089.2 298.0ZM1106.0 293.7L1110.0 293.7L1108.0 297.2ZM692.6 321.5L689.8 320.7L691.8 318.8ZM710.4 322.2L707.3 319.7L711.1 318.3ZM728.7 321.5L726.0 320.7L728.0 318.8ZM746.6 321.3L744.5 320.7L746.0 319.1ZM764.7 320.6L763.3 321.5L763.3 319.8ZM782.6 320.6L781.6 321.2L781.6 320.1ZM800.7 320.6L799.7 321.2L799.7 320.1ZM818.7 320.6L817.8 321.2L817.8 320.1ZM836.8 320.6L835.9 321.2L835.9 320.1ZM854.9 320.6L853.9 321.2L853.9 320.1ZM873.0 320.6L872.0 321.2L872.0 320.1ZM891.6 320.6L889.6 321.7L889.6 319.5ZM907.4 321.8L908.5 318.0L911.3 320.8ZM925.7 321.7L926.6 318.4L929.0 320.8ZM945.5 320.6L944.1 321.5L944.1 319.8ZM963.6 320.6L962.2 321.5L962.2 319.8ZM981.7 320.6L980.3 321.5L980.3 319.8ZM997.3 320.6L1000.8 318.6L1000.8 322.6ZM1016.2 320.6L1018.1 319.5L1018.1 321.7ZM1034.2 320.6L1036.2 319.5L1036.2 321.7ZM1051.9 319.2L1056.3 320.4L1053.1 323.6ZM1069.2 320.2L1074.0 318.5L1073.1 323.5ZM1087.5 320.3L1091.8 318.7L1091.0 323.2ZM1105.4 319.9L1110.5 319.0L1108.8 323.8ZM692.3 348.9L688.4 345.1L693.7 343.6ZM710.4 348.9L706.5 345.1L711.8 343.6ZM728.5 348.9L724.6 345.1L729.9 343.6ZM746.6 348.9L742.7 345.1L748.0 343.6ZM764.6 348.9L760.8 345.1L766.0 343.6ZM782.7 348.9L778.8 345.1L784.1 343.6ZM800.8 348.9L796.9 345.1L802.2 343.6ZM818.9 348.9L815.0 345.1L820.3 343.6ZM837.0 348.9L833.1 345.1L838.4 343.6ZM855.0 348.9L851.2 345.1L856.4 343.6ZM871.6 347.0L873.0 345.3L873.8 347.4ZM889.7 347.0L891.1 345.3L891.9 347.4ZM906.6 345.5L912.1 345.5L909.4 350.2ZM924.7 345.5L930.2 345.5L927.4 350.2ZM942.6 345.4L947.8 345.4L945.2 349.8ZM960.7 345.4L965.8 345.4L963.3 349.8ZM978.8 345.4L984.5 345.4L981.7 350.3ZM997.0 345.5L1002.5 345.5L999.8 350.2ZM1015.2 345.5L1020.3 345.5L1017.8 350.0ZM1033.7 346.6L1036.7 344.9L1036.7 348.3ZM1051.8 346.4L1055.0 345.2L1054.5 348.6ZM1069.0 345.8L1074.0 344.9L1072.3 349.7ZM1087.1 345.6L1092.3 345.1L1090.1 349.8ZM1105.2 345.6L1110.4 345.1L1108.2 349.8ZM686.5 370.7L691.6 369.9L689.8 374.7ZM704.5 370.6L709.5 369.8L707.7 374.6ZM722.3 370.6L727.3 369.7L725.6 374.6ZM740.2 370.4L745.2 369.6L743.4 374.4ZM758.5 370.4L763.5 369.7L761.6 374.5ZM776.8 370.3L781.9 369.8L779.8 374.5ZM794.7 370.0L799.8 369.6L797.6 374.3ZM813.0 369.8L818.2 369.7L815.7 374.2ZM831.3 369.8L836.5 369.8L833.9 374.2ZM849.9 369.9L855.1 370.0L852.3 374.4ZM868.5 369.8L873.6 370.3L870.7 374.5ZM887.4 369.5L892.4 370.8L888.7 374.4ZM907.2 371.8L911.1 371.8L909.2 375.2ZM928.2 372.7L925.3 374.4L925.3 371.0ZM946.0 372.7L943.6 374.1L943.6 371.3ZM961.2 371.7L965.7 371.7L963.5 375.6ZM979.8 370.1L984.0 373.1L979.3 375.2ZM997.1 371.5L1002.3 371.6L999.7 376.0ZM1015.2 371.5L1020.3 371.6L1017.8 376.0ZM1033.4 372.0L1037.9 371.2L1036.3 375.5ZM1051.4 372.1L1055.8 371.0L1054.6 375.4ZM1069.1 371.8L1074.7 370.8L1072.7 376.2ZM1087.3 371.4L1092.4 371.4L1089.8 375.8ZM1104.8 371.4L1109.9 370.9L1107.7 375.6ZM687.0 396.2L692.2 396.0L689.7 400.6ZM705.1 396.2L710.2 396.0L707.8 400.6ZM723.2 396.2L728.3 396.0L725.9 400.6ZM741.3 396.2L746.4 396.0L744.0 400.6ZM759.3 396.2L764.5 396.0L762.1 400.6ZM777.4 396.2L782.6 396.0L780.1 400.6ZM795.5 396.2L800.6 396.0L798.2 400.6ZM813.6 396.2L818.7 396.0L816.3 400.6ZM831.7 396.2L836.8 396.0L834.4 400.6ZM849.7 396.2L854.9 396.0L852.5 400.6ZM867.8 396.2L873.0 396.0L870.5 400.6ZM885.9 396.2L891.0 396.0L888.6 400.6ZM908.7 396.2L911.5 401.2L905.8 401.2ZM926.7 396.2L929.6 401.2L923.9 401.2ZM944.8 396.2L947.7 401.2L942.0 401.2ZM962.9 396.2L965.7 401.2L960.1 401.2ZM981.0 396.2L983.8 401.2L978.1 401.2ZM999.1 396.2L1001.9 401.2L996.2 401.2ZM1017.1 396.2L1020.0 401.2L1014.3 401.2ZM1035.2 396.2L1038.1 401.2L1032.4 401.2ZM1053.3 396.2L1056.1 401.2L1050.5 401.2ZM1071.4 396.2L1074.2 401.2L1068.5 401.2ZM1089.5 396.2L1092.3 401.2L1086.6 401.2ZM1107.5 396.2L1110.4 401.2L1104.7 401.2Z" fill="#c8705f" fill-opacity="0.93" stroke="#3a2525" stroke-width="0.72" stroke-linejoin="miter"/>
</g>
<rect x="690.5" y="33.9" width="436.5" height="365.3" fill="none" stroke="#555" stroke-width="1"/>
<path d="M690.5 104.3h14.5M690.5 299.8h14.5" stroke="#000" stroke-width="3.3"/>
<path d="M838.5 399.2v-9" stroke="#000" stroke-width="3.8"/>
<text x="687.0" y="110.8" text-anchor="end" font-size="17.5" fill="#231f20">20°N</text>
<text x="689.7" y="306.3" text-anchor="end" font-size="17.5" fill="#231f20">0°</text>
<text x="839.5" y="418.7" text-anchor="middle" font-size="17.5" fill="#231f20">100°E</text>
<circle cx="914.5" cy="53.8" r="13.9" fill="#faa42c"/><text x="914.5" y="59.0" text-anchor="middle" font-size="14" fill="#231f20">D</text>
<circle cx="860.5" cy="102" r="13.9" fill="#faa42c"/><text x="860.5" y="107.2" text-anchor="middle" font-size="14" fill="#231f20">TM</text>
<circle cx="936.5" cy="97" r="13.9" fill="#faa42c"/><text x="936.5" y="102.2" text-anchor="middle" font-size="14" fill="#231f20">LH</text>
<circle cx="822" cy="222" r="13.9" fill="#faa42c"/><text x="822" y="227.2" text-anchor="middle" font-size="14" fill="#231f20">K</text>
<circle cx="844.7" cy="305" r="13.9" fill="#faa42c"/><text x="844.7" y="310.2" text-anchor="middle" font-size="14" fill="#231f20">T</text>
<circle cx="971.5" cy="263.5" r="13.9" fill="#faa42c"/><text x="971.5" y="268.7" text-anchor="middle" font-size="14" fill="#231f20">BA</text>
<circle cx="1032" cy="381.5" r="13.9" fill="#faa42c"/><text x="1032" y="386.7" text-anchor="middle" font-size="14" fill="#231f20">LL</text>
<polygon points="904.7,116.7 912.1,125.9 923.7,128.1 917.2,138.0 918.7,149.8 907.3,146.7 896.6,151.7 896.0,139.9 887.9,131.2 899.0,127.0" fill="#f05a28" stroke="#f05a28" stroke-width="3.8" stroke-linejoin="round"/><text x="906.3" y="140.7" text-anchor="middle" font-size="14.4" fill="#231f20">TD</text>
<text x="1047.5" y="424.5" font-size="17.3" fill="#231f20">5 ms<tspan font-size="10.5" dy="-5.8">-1</tspan></text><path d="M1104.0 416.4h6.8v-2l5.7 2.8l-5.7 2.8v-2h-6.8z" fill="#c4574a"/>
<rect x="83.00" y="435.5" width="108.80" height="21.5" fill="#d4e6f4"/>
<rect x="191.50" y="435.5" width="108.80" height="21.5" fill="#90c4de"/>
<rect x="300.00" y="435.5" width="108.80" height="21.5" fill="#3f90c6"/>
<rect x="408.50" y="435.5" width="108.80" height="21.5" fill="#0c5aa6"/>
<text x="191.50" y="475.5" text-anchor="middle" font-size="18.3" fill="#231f20">5</text>
<text x="300.00" y="475.5" text-anchor="middle" font-size="18.3" fill="#231f20">10</text>
<text x="408.50" y="475.5" text-anchor="middle" font-size="18.3" fill="#231f20">15</text>
<text x="525.50" y="475.5" text-anchor="end" font-size="18.3" fill="#231f20">20</text>
<text x="306" y="502" text-anchor="middle" font-size="20.2" fill="#231f20">Mean monthly precipitation rate [mm/day]</text>
<rect x="690.50" y="437.3" width="109.30" height="22.0" fill="#d4e6f4"/>
<rect x="799.50" y="437.3" width="109.30" height="22.0" fill="#90c4de"/>
<rect x="908.50" y="437.3" width="109.30" height="22.0" fill="#3f90c6"/>
<rect x="1017.50" y="437.3" width="109.30" height="22.0" fill="#0c5aa6"/>
<text x="799.50" y="477.5" text-anchor="middle" font-size="18.3" fill="#231f20">5</text>
<text x="908.50" y="477.5" text-anchor="middle" font-size="18.3" fill="#231f20">10</text>
<text x="1017.50" y="477.5" text-anchor="middle" font-size="18.3" fill="#231f20">15</text>
<text x="1131.00" y="477.5" text-anchor="end" font-size="18.3" fill="#231f20">20</text>
<text x="918" y="503" text-anchor="middle" font-size="20.2" fill="#231f20">Mean monthly precipitation rate [mm/day]</text>
<rect x="115.15" y="863.25" width="26.2" height="29.25" fill="#66c2a5" stroke="#3c9f78" stroke-width="1"/>
<rect x="147.00" y="882.00" width="26.2" height="10.50" fill="#66c2a5" stroke="#3c9f78" stroke-width="1"/>
<rect x="178.85" y="875.75" width="26.2" height="16.75" fill="#66c2a5" stroke="#3c9f78" stroke-width="1"/>
<rect x="210.70" y="846.50" width="26.2" height="46.00" fill="#66c2a5" stroke="#3c9f78" stroke-width="1"/>
<rect x="242.55" y="868.25" width="26.2" height="24.25" fill="#66c2a5" stroke="#3c9f78" stroke-width="1"/>
<rect x="274.40" y="862.75" width="26.2" height="29.75" fill="#66c2a5" stroke="#3c9f78" stroke-width="1"/>
<rect x="306.25" y="830.75" width="26.2" height="61.75" fill="#66c2a5" stroke="#3c9f78" stroke-width="1"/>
<rect x="338.10" y="855.00" width="26.2" height="37.50" fill="#66c2a5" stroke="#3c9f78" stroke-width="1"/>
<rect x="369.95" y="754.25" width="26.2" height="138.25" fill="#66c2a5" stroke="#3c9f78" stroke-width="1"/>
<rect x="401.80" y="645.75" width="26.2" height="246.75" fill="#66c2a5" stroke="#3c9f78" stroke-width="1"/>
<rect x="433.65" y="782.00" width="26.2" height="110.50" fill="#66c2a5" stroke="#3c9f78" stroke-width="1"/>
<rect x="465.50" y="818.25" width="26.2" height="74.25" fill="#66c2a5" stroke="#3c9f78" stroke-width="1"/>
<path d="M90.0 555.8H516.3M90.0 892.5H516.3" stroke="#58595b" stroke-width="1.3" fill="none"/>
<path d="M128.25 555.8v5M128.25 892.5v-5M160.10 555.8v5M160.10 892.5v-5M191.95 555.8v5M191.95 892.5v-5M223.80 555.8v5M223.80 892.5v-5M255.65 555.8v5M255.65 892.5v-5M287.50 555.8v5M287.50 892.5v-5M319.35 555.8v5M319.35 892.5v-5M351.20 555.8v5M351.20 892.5v-5M383.05 555.8v5M383.05 892.5v-5M414.90 555.8v5M414.90 892.5v-5M446.75 555.8v5M446.75 892.5v-5M478.60 555.8v5M478.60 892.5v-5" stroke="#58595b" stroke-width="1" fill="none"/>
<path d="M128.25 856.25V870M122.25 856.25h12M122.25 870h12M160.10 879V885M154.10 879h12M154.10 885h12M191.95 872V880M185.95 872h12M185.95 880h12M223.80 831.25V861.75M217.80 831.25h12M217.80 861.75h12M255.65 860V877M249.65 860h12M249.65 877h12M287.50 858V868.75M281.50 858h12M281.50 868.75h12M319.35 813.75V848M313.35 813.75h12M313.35 848h12M351.20 844.5V864.5M345.20 844.5h12M345.20 864.5h12M383.05 714.75V793.25M377.05 714.75h12M377.05 793.25h12M414.90 573.75V718.25M408.90 573.75h12M408.90 718.25h12M446.75 762V801.25M440.75 762h12M440.75 801.25h12M478.60 806.75V829.25M472.60 806.75h12M472.60 829.25h12" stroke="#17783f" stroke-width="1.8" fill="none"/>
<path d="M128.25 585V604.5M122.25 585h12M122.25 604.5h12M160.10 571.25V608M154.10 571.25h12M154.10 608h12M191.95 587.5V613M185.95 587.5h12M185.95 613h12M223.80 570V617.5M217.80 570h12M217.80 617.5h12M255.65 602.5V760M249.65 602.5h12M249.65 760h12M287.50 641.75V813.75M281.50 641.75h12M281.50 813.75h12M319.35 693V773M313.35 693h12M313.35 773h12M351.20 729V872M345.20 729h12M345.20 872h12M383.05 708V794.5M377.05 708h12M377.05 794.5h12M414.90 654.5V730.75M408.90 654.5h12M408.90 730.75h12M446.75 617V654.25M440.75 617h12M440.75 654.25h12M478.60 605.75V642M472.60 605.75h12M472.60 642h12" stroke="#e0752d" stroke-width="1.7" fill="none"/>
<polyline points="128.25,594.50 160.10,589.50 191.95,600.50 223.80,594.00 255.65,680.25 287.50,727.00 319.35,732.00 351.20,800.00 383.05,751.00 414.90,692.50 446.75,636.25 478.60,624.25" stroke="#e0752d" stroke-width="2" fill="none"/>
<circle cx="128.25" cy="594.50" r="7.2" fill="#f79a3b" stroke="#e0752d" stroke-width="1.5"/>
<circle cx="160.10" cy="589.50" r="7.2" fill="#f79a3b" stroke="#e0752d" stroke-width="1.5"/>
<circle cx="191.95" cy="600.50" r="7.2" fill="#f79a3b" stroke="#e0752d" stroke-width="1.5"/>
<circle cx="223.80" cy="594.00" r="7.2" fill="#f79a3b" stroke="#e0752d" stroke-width="1.5"/>
<circle cx="255.65" cy="680.25" r="7.2" fill="#f79a3b" stroke="#e0752d" stroke-width="1.5"/>
<circle cx="287.50" cy="727.00" r="7.2" fill="#f79a3b" stroke="#e0752d" stroke-width="1.5"/>
<circle cx="319.35" cy="732.00" r="7.2" fill="#f79a3b" stroke="#e0752d" stroke-width="1.5"/>
<circle cx="351.20" cy="800.00" r="7.2" fill="#f79a3b" stroke="#e0752d" stroke-width="1.5"/>
<circle cx="383.05" cy="751.00" r="7.2" fill="#f79a3b" stroke="#e0752d" stroke-width="1.5"/>
<circle cx="414.90" cy="692.50" r="7.2" fill="#f79a3b" stroke="#e0752d" stroke-width="1.5"/>
<circle cx="446.75" cy="636.25" r="7.2" fill="#f79a3b" stroke="#e0752d" stroke-width="1.5"/>
<circle cx="478.60" cy="624.25" r="7.2" fill="#f79a3b" stroke="#e0752d" stroke-width="1.5"/>
<path d="M90.0 555.3V893.0M90.0 850.41h4.6M90.0 808.33h4.6M90.0 766.24h4.6M90.0 724.15h4.6M90.0 682.06h4.6M90.0 639.97h4.6M90.0 597.89h4.6" stroke="#17783f" stroke-width="1.7" fill="none"/>
<text x="83" y="899.40" text-anchor="end" font-size="23.2" fill="#17783f">0</text>
<text x="83" y="857.31" text-anchor="end" font-size="23.2" fill="#17783f">100</text>
<text x="83" y="815.23" text-anchor="end" font-size="23.2" fill="#17783f">200</text>
<text x="83" y="773.14" text-anchor="end" font-size="23.2" fill="#17783f">300</text>
<text x="83" y="731.05" text-anchor="end" font-size="23.2" fill="#17783f">400</text>
<text x="83" y="688.96" text-anchor="end" font-size="23.2" fill="#17783f">500</text>
<text x="83" y="646.87" text-anchor="end" font-size="23.2" fill="#17783f">600</text>
<text x="83" y="604.79" text-anchor="end" font-size="23.2" fill="#17783f">700</text>
<text x="83" y="561.00" text-anchor="end" font-size="23.2" fill="#17783f">800</text>
<path d="M516.3 555.3V893.0M516.3 603.90h-4.6M516.3 652.00h-4.6M516.3 700.10h-4.6M516.3 748.20h-4.6M516.3 796.30h-4.6M516.3 844.40h-4.6" stroke="#e0752d" stroke-width="1.7" fill="none"/>
<text x="524" y="561.00" font-size="23.2" fill="#e0752d">0</text>
<text x="524" y="610.80" font-size="23.2" fill="#e0752d">-2</text>
<text x="524" y="658.90" font-size="23.2" fill="#e0752d">-4</text>
<text x="524" y="707.00" font-size="23.2" fill="#e0752d">-6</text>
<text x="524" y="755.10" font-size="23.2" fill="#e0752d">-8</text>
<text x="524" y="803.20" font-size="23.2" fill="#e0752d">-10</text>
<text x="524" y="851.30" font-size="23.2" fill="#e0752d">-12</text>
<text x="524" y="899.40" font-size="23.2" fill="#e0752d">-14</text>
<text x="124.95" y="918.5" text-anchor="middle" font-size="23" fill="#231f20">J</text>
<text x="156.80" y="918.5" text-anchor="middle" font-size="23" fill="#231f20">F</text>
<text x="188.65" y="918.5" text-anchor="middle" font-size="23" fill="#231f20">M</text>
<text x="220.50" y="918.5" text-anchor="middle" font-size="23" fill="#231f20">A</text>
<text x="252.35" y="918.5" text-anchor="middle" font-size="23" fill="#231f20">M</text>
<text x="284.20" y="918.5" text-anchor="middle" font-size="23" fill="#231f20">J</text>
<text x="316.05" y="918.5" text-anchor="middle" font-size="23" fill="#231f20">J</text>
<text x="347.90" y="918.5" text-anchor="middle" font-size="23" fill="#231f20">A</text>
<text x="379.75" y="918.5" text-anchor="middle" font-size="23" fill="#231f20">S</text>
<text x="411.60" y="918.5" text-anchor="middle" font-size="23" fill="#231f20">O</text>
<text x="443.45" y="918.5" text-anchor="middle" font-size="23" fill="#231f20">N</text>
<text x="475.30" y="918.5" text-anchor="middle" font-size="23" fill="#231f20">D</text>
<text x="299.3" y="951" text-anchor="middle" font-size="24" fill="#231f20">Month</text>
<text x="85" y="538.5" font-size="24" font-weight="bold" fill="#231f20">c</text>
<text transform="translate(20.5,719) rotate(-90)" text-anchor="middle" font-size="25" fill="#17783f">Precipitation [mm/month]</text>
<text transform="translate(589,719) rotate(-90)" text-anchor="middle" font-size="25" fill="#e0752d"><tspan font-family="Liberation Serif" font-style="italic" font-size="26">δ</tspan><tspan font-size="19" dy="-13">18</tspan><tspan dy="13">O [‰]</tspan></text>
<rect x="717.00" y="806.25" width="26" height="4.75" fill="#66c2a5" stroke="#3c9f78" stroke-width="1"/>
<rect x="748.70" y="806.25" width="26" height="23.75" fill="#66c2a5" stroke="#3c9f78" stroke-width="1"/>
<rect x="780.40" y="806.25" width="26" height="28.75" fill="#66c2a5" stroke="#3c9f78" stroke-width="1"/>
<rect x="812.10" y="806.25" width="26" height="10.00" fill="#66c2a5" stroke="#3c9f78" stroke-width="1"/>
<rect x="843.80" y="806.25" width="26" height="42.00" fill="#66c2a5" stroke="#3c9f78" stroke-width="1"/>
<rect x="875.50" y="806.25" width="26" height="38.00" fill="#66c2a5" stroke="#3c9f78" stroke-width="1"/>
<rect x="907.20" y="806.25" width="26" height="0.75" fill="#66c2a5" stroke="#3c9f78" stroke-width="1"/>
<rect x="938.90" y="806.25" width="26" height="27.35" fill="#66c2a5" stroke="#3c9f78" stroke-width="1"/>
<rect x="970.60" y="722.70" width="26" height="83.55" fill="#66c2a5" stroke="#3c9f78" stroke-width="1"/>
<rect x="1002.30" y="608.80" width="26" height="197.45" fill="#66c2a5" stroke="#3c9f78" stroke-width="1"/>
<rect x="1034.00" y="735.20" width="26" height="71.05" fill="#66c2a5" stroke="#3c9f78" stroke-width="1"/>
<rect x="1065.70" y="768.30" width="26" height="37.95" fill="#66c2a5" stroke="#3c9f78" stroke-width="1"/>
<path d="M692.0 553.8H1116.8M692.0 890.4H1116.8M692.0 806.25H1116.8" stroke="#58595b" stroke-width="1.3" fill="none"/>
<path d="M730.00 553.8v5M730.00 890.4v-5M761.70 553.8v5M761.70 890.4v-5M793.40 553.8v5M793.40 890.4v-5M825.10 553.8v5M825.10 890.4v-5M856.80 553.8v5M856.80 890.4v-5M888.50 553.8v5M888.50 890.4v-5M920.20 553.8v5M920.20 890.4v-5M951.90 553.8v5M951.90 890.4v-5M983.60 553.8v5M983.60 890.4v-5M1015.30 553.8v5M1015.30 890.4v-5M1047.00 553.8v5M1047.00 890.4v-5M1078.70 553.8v5M1078.70 890.4v-5" stroke="#58595b" stroke-width="1" fill="none"/>
<path d="M730.00 790.25V830.75M724.00 790.25h12M724.00 830.75h12M761.70 809.5V850.5M755.70 809.5h12M755.70 850.5h12M793.40 814.75V855.5M787.40 814.75h12M787.40 855.5h12M825.10 795.75V836.75M819.10 795.75h12M819.10 836.75h12M856.80 827.75V868.75M850.80 827.75h12M850.80 868.75h12M888.50 823.5V864.25M882.50 823.5h12M882.50 864.25h12M920.20 787V827.2M914.20 787h12M914.20 827.2h12M951.90 813V853.9M945.90 813h12M945.90 853.9h12M983.60 702V742M977.60 702h12M977.60 742h12M1015.30 589.3V629.3M1009.30 589.3h12M1009.30 629.3h12M1047.00 714.8V755M1041.00 714.8h12M1041.00 755h12M1078.70 747.5V788.8M1072.70 747.5h12M1072.70 788.8h12" stroke="#17783f" stroke-width="1.8" fill="none"/>
<path d="M730.00 569.5V618M724.00 569.5h12M724.00 618h12M761.70 563.75V612M755.70 563.75h12M755.70 612h12M793.40 565.75V614.25M787.40 565.75h12M787.40 614.25h12M825.10 574.25V622.5M819.10 574.25h12M819.10 622.5h12M856.80 584.25V632.75M850.80 584.25h12M850.80 632.75h12M888.50 599.5V648M882.50 599.5h12M882.50 648h12M920.20 644.5V693.3M914.20 644.5h12M914.20 693.3h12M951.90 631V679.5M945.90 631h12M945.90 679.5h12M983.60 769.3V818.1M977.60 769.3h12M977.60 818.1h12M1015.30 821.3V869.9M1009.30 821.3h12M1009.30 869.9h12M1047.00 628.8V677.3M1041.00 628.8h12M1041.00 677.3h12M1078.70 599.2V648M1072.70 599.2h12M1072.70 648h12" stroke="#e0752d" stroke-width="1.7" fill="none"/>
<polyline points="730.00,593.75 761.70,587.50 793.40,590.75 825.10,599.25 856.80,608.75 888.50,623.25 920.20,668.80 951.90,655.20 983.60,795.50 1015.30,847.20 1047.00,653.30 1078.70,624.00" stroke="#e0752d" stroke-width="2" fill="none"/>
<circle cx="730.00" cy="593.75" r="7.2" fill="#f79a3b" stroke="#e0752d" stroke-width="1.5"/>
<circle cx="761.70" cy="587.50" r="7.2" fill="#f79a3b" stroke="#e0752d" stroke-width="1.5"/>
<circle cx="793.40" cy="590.75" r="7.2" fill="#f79a3b" stroke="#e0752d" stroke-width="1.5"/>
<circle cx="825.10" cy="599.25" r="7.2" fill="#f79a3b" stroke="#e0752d" stroke-width="1.5"/>
<circle cx="856.80" cy="608.75" r="7.2" fill="#f79a3b" stroke="#e0752d" stroke-width="1.5"/>
<circle cx="888.50" cy="623.25" r="7.2" fill="#f79a3b" stroke="#e0752d" stroke-width="1.5"/>
<circle cx="920.20" cy="668.80" r="7.2" fill="#f79a3b" stroke="#e0752d" stroke-width="1.5"/>
<circle cx="951.90" cy="655.20" r="7.2" fill="#f79a3b" stroke="#e0752d" stroke-width="1.5"/>
<circle cx="983.60" cy="795.50" r="7.2" fill="#f79a3b" stroke="#e0752d" stroke-width="1.5"/>
<circle cx="1015.30" cy="847.20" r="7.2" fill="#f79a3b" stroke="#e0752d" stroke-width="1.5"/>
<circle cx="1047.00" cy="653.30" r="7.2" fill="#f79a3b" stroke="#e0752d" stroke-width="1.5"/>
<circle cx="1078.70" cy="624.00" r="7.2" fill="#f79a3b" stroke="#e0752d" stroke-width="1.5"/>
<path d="M692.0 553.3V890.9M692.0 848.32h4.6M692.0 806.25h4.6M692.0 764.17h4.6M692.0 722.10h4.6M692.0 680.02h4.6M692.0 637.95h4.6M692.0 595.88h4.6" stroke="#17783f" stroke-width="1.7" fill="none"/>
<text x="683" y="897.30" text-anchor="end" font-size="23.2" fill="#17783f">-200</text>
<text x="683" y="855.22" text-anchor="end" font-size="23.2" fill="#17783f">-100</text>
<text x="683" y="813.15" text-anchor="end" font-size="23.2" fill="#17783f">0</text>
<text x="683" y="771.07" text-anchor="end" font-size="23.2" fill="#17783f">100</text>
<text x="683" y="729.00" text-anchor="end" font-size="23.2" fill="#17783f">200</text>
<text x="683" y="686.92" text-anchor="end" font-size="23.2" fill="#17783f">300</text>
<text x="683" y="644.85" text-anchor="end" font-size="23.2" fill="#17783f">400</text>
<text x="683" y="602.77" text-anchor="end" font-size="23.2" fill="#17783f">500</text>
<text x="683" y="559.20" text-anchor="end" font-size="23.2" fill="#17783f">600</text>
<path d="M1116.8 553.3V890.9M1116.8 584.40h-4.6M1116.8 615.00h-4.6M1116.8 645.60h-4.6M1116.8 676.20h-4.6M1116.8 706.80h-4.6M1116.8 737.40h-4.6M1116.8 768.00h-4.6M1116.8 798.60h-4.6M1116.8 829.20h-4.6M1116.8 859.80h-4.6" stroke="#e0752d" stroke-width="1.7" fill="none"/>
<text x="1124" y="591.30" font-size="23.2" fill="#e0752d">0</text>
<text x="1124" y="652.50" font-size="23.2" fill="#e0752d">-0.4</text>
<text x="1124" y="713.70" font-size="23.2" fill="#e0752d">-0.8</text>
<text x="1124" y="774.90" font-size="23.2" fill="#e0752d">-1.2</text>
<text x="1124" y="836.10" font-size="23.2" fill="#e0752d">-1.6</text>
<text x="1124" y="897.30" font-size="23.2" fill="#e0752d">-2</text>
<text x="730.00" y="918" text-anchor="middle" font-size="23" fill="#231f20">J</text>
<text x="761.70" y="918" text-anchor="middle" font-size="23" fill="#231f20">F</text>
<text x="793.40" y="918" text-anchor="middle" font-size="23" fill="#231f20">M</text>
<text x="825.10" y="918" text-anchor="middle" font-size="23" fill="#231f20">A</text>
<text x="856.80" y="918" text-anchor="middle" font-size="23" fill="#231f20">M</text>
<text x="888.50" y="918" text-anchor="middle" font-size="23" fill="#231f20">J</text>
<text x="920.20" y="918" text-anchor="middle" font-size="23" fill="#231f20">J</text>
<text x="951.90" y="918" text-anchor="middle" font-size="23" fill="#231f20">A</text>
<text x="983.60" y="918" text-anchor="middle" font-size="23" fill="#231f20">S</text>
<text x="1015.30" y="918" text-anchor="middle" font-size="23" fill="#231f20">O</text>
<text x="1047.00" y="918" text-anchor="middle" font-size="23" fill="#231f20">N</text>
<text x="1078.70" y="918" text-anchor="middle" font-size="23" fill="#231f20">D</text>
<text x="906" y="951" text-anchor="middle" font-size="24" fill="#231f20">Month</text>
<text x="693" y="540.5" font-size="24" font-weight="bold" fill="#231f20">d</text>
<text transform="translate(628.5,717.6) rotate(-90)" text-anchor="middle" font-size="25.05" fill="#17783f">Effective precipitation [mm/month]</text>
<text transform="translate(1191.5,713.2) rotate(-90)" text-anchor="middle" font-size="24.1" fill="#e0752d">Amount-weighted<tspan font-family="Liberation Serif" font-style="italic" font-size="26" dx="3">δ</tspan><tspan font-size="19" dy="-13">18</tspan><tspan dy="13">O [‰]</tspan></text>
</svg></body></html>
